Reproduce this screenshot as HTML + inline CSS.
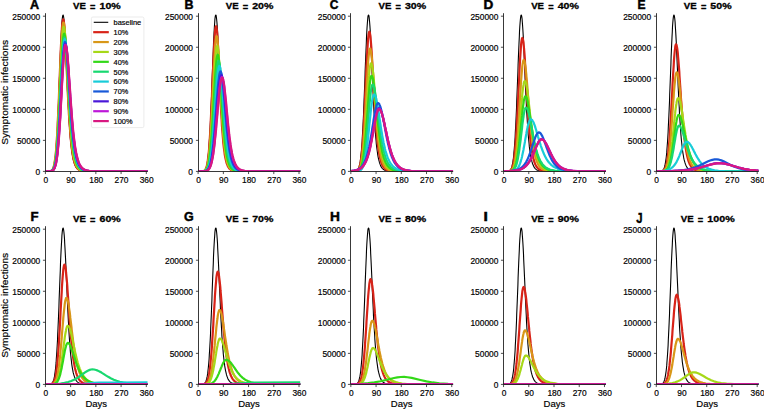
<!DOCTYPE html><html><head><meta charset="utf-8"><style>html,body{margin:0;padding:0;background:#fff;}svg{display:block;}text{font-family:"Liberation Sans",sans-serif;fill:#000;stroke:#000;stroke-width:0.18px;}</style></head><body>
<svg width="764" height="409" viewBox="0 0 764 409">
<rect width="764" height="409" fill="#fff"/>
<defs>
<clipPath id="c0"><rect x="45.40" y="13.20" width="102.31" height="158.20"/></clipPath>
<clipPath id="c1"><rect x="198.12" y="13.20" width="102.31" height="158.20"/></clipPath>
<clipPath id="c2"><rect x="350.84" y="13.20" width="102.31" height="158.20"/></clipPath>
<clipPath id="c3"><rect x="503.56" y="13.20" width="102.31" height="158.20"/></clipPath>
<clipPath id="c4"><rect x="656.28" y="13.20" width="102.31" height="158.20"/></clipPath>
<clipPath id="c5"><rect x="45.40" y="226.20" width="102.31" height="158.20"/></clipPath>
<clipPath id="c6"><rect x="198.12" y="226.20" width="102.31" height="158.20"/></clipPath>
<clipPath id="c7"><rect x="350.84" y="226.20" width="102.31" height="158.20"/></clipPath>
<clipPath id="c8"><rect x="503.56" y="226.20" width="102.31" height="158.20"/></clipPath>
<clipPath id="c9"><rect x="656.28" y="226.20" width="102.31" height="158.20"/></clipPath>
</defs>
<g clip-path="url(#c0)" fill="none" stroke-linejoin="round" stroke-linecap="butt">
<path d="M45.4 171.4L49.6 171.29L50.7 171.05L51.6 170.63L52.4 169.76L52.7 169.33L53 168.79L53.2 168.13L53.5 167.34L53.8 166.38L54.1 165.23L54.4 163.88L54.6 162.28L54.9 160.41L55.2 158.24L55.5 155.75L55.8 152.9L56.1 149.66L56.3 146.02L56.6 141.96L56.9 137.47L57.2 132.54L57.5 127.16L57.7 121.37L58 115.16L58.3 108.59L58.6 101.69L58.9 94.53L59.1 87.15L60 64.64L60.3 57.32L60.5 50.27L60.8 43.59L61.1 37.39L61.4 31.77L61.7 26.83L61.9 22.67L62.2 19.34L62.5 16.92L62.8 15.45L63.1 14.96L63.3 15.41L63.6 16.77L63.9 19L64.2 22.05L64.5 25.85L64.7 30.33L65 35.38L65.3 40.92L65.6 46.84L65.9 53.04L66.1 59.43L67 78.87L67.3 85.19L67.5 91.34L67.8 97.28L68.1 102.96L68.4 108.37L68.7 113.49L68.9 118.3L69.2 122.82L69.5 127.03L69.8 130.94L70.1 134.56L70.3 137.91L70.6 140.99L70.9 143.81L71.2 146.4L71.5 148.77L71.7 150.93L72 152.9L72.3 154.69L72.6 156.32L72.9 157.8L73.1 159.14L73.4 160.35L73.7 161.44L74.3 163.33L74.6 164.14L74.8 164.86L75.4 166.11L76 167.13L76.2 167.56L77.1 168.61L77.6 169.15L79 170.09L80.7 170.71L83 171.11L86.6 171.33L93.6 171.4L147.7 171.4" stroke="#000" stroke-width="1.10"/>
<path d="M45.4 171.4L49.6 171.28L50.7 171.02L51.6 170.58L52.4 169.7L52.7 169.26L53 168.72L53.2 168.07L53.5 167.28L53.8 166.34L54.1 165.22L54.4 163.89L54.6 162.34L54.9 160.53L55.2 158.44L55.5 156.04L55.8 153.31L56.1 150.22L56.3 146.76L56.6 142.89L56.9 138.63L57.2 133.95L57.5 128.87L57.7 123.38L58 117.52L58.3 111.3L58.6 104.78L58.9 97.99L59.1 91L60 69.55L60.3 62.52L60.5 55.71L60.8 49.23L61.1 43.15L61.4 37.59L61.7 32.63L61.9 28.36L62.2 24.85L62.5 22.16L62.8 20.34L63.1 19.42L63.3 19.41L63.6 20.23L63.9 21.86L64.2 24.26L64.5 27.38L64.7 31.16L65 35.52L65.3 40.38L65.6 45.66L65.9 51.27L66.1 57.11L66.7 69.2L67.3 81.33L67.5 87.25L67.8 93.02L68.1 98.6L68.4 103.96L68.7 109.07L68.9 113.92L69.2 118.5L69.5 122.8L69.8 126.83L70.1 130.6L70.3 134.09L70.6 137.34L70.9 140.33L71.2 143.1L71.5 145.64L71.7 147.98L72 150.12L72.3 152.08L72.6 153.87L72.9 155.51L73.1 157L73.4 158.36L73.7 159.59L74 160.71L74.6 162.66L74.8 163.5L75.4 164.95L76 166.13L76.2 166.64L76.8 167.52L77.4 168.24L77.6 168.55L78.5 169.31L79.3 169.86L80.7 170.48L82.7 170.96L86 171.27L95 171.4L147.7 171.4" stroke="#d82318" stroke-width="2.20"/>
<path d="M45.4 171.4L49.3 171.32L50.7 171.06L51.6 170.66L52.4 169.88L53 169.01L53.2 168.43L53.5 167.73L53.8 166.89L54.1 165.89L54.4 164.72L54.6 163.33L54.9 161.72L55.2 159.85L55.5 157.71L55.8 155.26L56.1 152.48L56.3 149.36L56.6 145.87L56.9 142L57.2 137.75L57.5 133.1L57.7 128.07L58 122.66L58.3 116.9L58.6 110.82L58.9 104.46L59.1 97.86L59.4 91.08L60.3 70.39L60.5 63.64L60.8 57.12L61.1 50.91L61.4 45.11L61.7 39.8L61.9 35.08L62.2 31.02L62.5 27.68L62.8 25.12L63.1 23.39L63.3 22.52L63.6 22.5L63.9 23.28L64.2 24.8L64.5 27.06L64.7 29.99L65 33.54L65.3 37.65L65.6 42.24L65.9 47.22L66.1 52.54L66.4 58.09L66.7 63.8L67.3 75.44L67.5 81.24L67.8 86.95L68.1 92.53L68.4 97.94L68.7 103.14L68.9 108.13L69.2 112.88L69.5 117.38L69.8 121.63L70.1 125.62L70.3 129.36L70.6 132.84L70.9 136.08L71.2 139.09L71.5 141.88L71.7 144.45L72 146.82L72.3 148.99L72.6 151L72.9 152.83L73.1 154.51L73.4 156.05L73.7 157.45L74 158.73L74.3 159.9L74.6 160.97L74.8 161.94L75.4 163.62L76 165.01L76.2 165.61L76.8 166.65L77.4 167.51L77.6 167.88L79 169.26L80.7 170.23L82.4 170.76L84.9 171.14L90 171.36L147.7 171.4" stroke="#d89718" stroke-width="2.20"/>
<path d="M45.4 171.4L49.6 171.3L51 171L51.6 170.74L52.4 170.05L53 169.28L53.2 168.77L53.5 168.15L53.8 167.41L54.1 166.53L54.4 165.49L54.6 164.27L54.9 162.84L55.2 161.19L55.5 159.29L55.8 157.11L56.1 154.64L56.3 151.85L56.6 148.72L56.9 145.25L57.2 141.42L57.5 137.22L57.7 132.65L58 127.73L58.3 122.45L58.6 116.86L58.9 110.96L59.1 104.82L59.4 98.46L60 85.35L60.3 78.73L60.5 72.17L60.8 65.75L61.1 59.56L61.4 53.67L61.7 48.18L61.9 43.16L62.2 38.7L62.5 34.86L62.8 31.72L63.3 27.68L63.6 26.86L63.9 26.84L64.2 27.56L64.5 28.97L64.7 31.05L65 33.77L65.3 37.06L65.6 40.88L65.9 45.14L66.1 49.8L66.4 54.76L66.7 59.96L67 65.33L67.3 70.81L67.5 76.32L68.1 87.25L68.4 92.57L68.7 97.75L68.9 102.76L69.2 107.57L69.5 112.17L69.8 116.55L70.1 120.69L70.3 124.6L70.6 128.27L70.9 131.71L71.2 134.92L71.5 137.92L71.7 140.69L72 143.27L72.3 145.65L72.6 147.85L72.9 149.88L73.1 151.75L73.4 153.46L73.7 155.04L74 156.48L74.3 157.81L74.6 159.02L74.8 160.12L75.1 161.14L75.7 162.9L76 163.67L76.2 164.37L76.8 165.59L77.4 166.61L77.6 167.04L78.5 168.14L79 168.71L80.4 169.74L82.1 170.47L84.1 170.93L87.4 171.25L91.1 171.36L147.7 171.4" stroke="#a6d818" stroke-width="2.20"/>
<path d="M45.4 171.4L49.6 171.31L51 171.06L51.6 170.85L52.4 170.27L53 169.63L53.8 168.09L54.1 167.36L54.4 166.5L54.6 165.48L54.9 164.3L55.2 162.93L55.5 161.34L55.8 159.52L56.1 157.45L56.3 155.11L56.6 152.47L56.9 149.54L57.2 146.28L57.5 142.69L57.7 138.77L58 134.52L58.3 129.93L58.6 125.04L58.9 119.84L59.1 114.37L59.4 108.67L59.7 102.77L60.3 90.59L60.5 84.42L60.8 78.29L61.1 72.27L61.4 66.44L61.7 60.87L61.9 55.63L62.2 50.8L62.5 46.45L62.8 42.65L63.1 39.46L63.3 36.92L63.6 35.08L63.9 33.96L64.2 33.58L64.5 33.9L64.7 34.84L65 36.39L65.3 38.52L65.6 41.19L65.9 44.36L66.1 47.97L66.4 51.96L66.7 56.28L67 60.87L67.3 65.65L67.5 70.57L68.7 90.63L68.9 95.51L69.2 100.26L69.5 104.87L69.8 109.31L70.1 113.57L70.3 117.63L70.6 121.49L70.9 125.14L71.2 128.59L71.5 131.83L71.7 134.87L72 137.71L72.3 140.37L72.6 142.84L72.9 145.13L73.1 147.26L73.4 149.24L73.7 151.06L74 152.74L74.3 154.3L74.6 155.73L74.8 157.05L75.4 159.38L76 161.34L76.2 162.21L76.8 163.72L77.4 164.99L77.6 165.54L78.5 166.94L78.8 167.33L79 167.69L79.9 168.58L80.7 169.26L82.1 170.05L83.8 170.62L86.3 171.06L90.8 171.32L99.2 171.4L147.7 171.4" stroke="#33d818" stroke-width="2.20"/>
<path d="M45.4 171.4L49.6 171.32L51 171.1L51.8 170.77L52.7 170.14L53 169.83L53.8 168.45L54.1 167.81L54.4 167.04L54.6 166.14L54.9 165.09L55.2 163.87L55.5 162.46L55.8 160.83L56.1 158.98L56.3 156.89L56.6 154.53L56.9 151.89L57.2 148.95L57.5 145.71L57.7 142.16L58 138.29L58.3 134.11L58.6 129.62L58.9 124.83L59.1 119.77L59.4 114.47L59.7 108.95L60 103.25L60.3 97.43L60.5 91.54L61.1 79.77L61.4 74.02L61.7 68.46L61.9 63.16L62.2 58.18L62.5 53.6L62.8 49.48L63.1 45.88L63.3 42.86L63.6 40.46L63.9 38.72L64.2 37.66L64.5 37.31L64.7 37.6L65 38.48L65.3 39.92L65.6 41.9L65.9 44.38L66.1 47.34L66.4 50.71L66.7 54.44L67 58.49L67.3 62.79L67.5 67.29L68.1 76.68L68.7 86.24L68.9 90.98L69.5 100.21L69.8 104.64L70.1 108.93L70.3 113.05L70.6 116.99L70.9 120.75L71.2 124.33L71.5 127.71L71.7 130.9L72 133.9L72.3 136.71L72.6 139.35L72.9 141.81L73.1 144.11L73.4 146.25L73.7 148.24L74 150.08L74.3 151.79L74.6 153.37L74.8 154.83L75.1 156.18L75.7 158.57L76 159.63L76.2 160.6L76.8 162.32L77.4 163.78L77.6 164.42L78.5 166.03L78.8 166.49L79 166.9L79.9 167.95L80.4 168.51L81.8 169.55L83.5 170.31L85.5 170.82L88.6 171.18L93.6 171.36L147.7 171.4" stroke="#18d870" stroke-width="2.20"/>
<path d="M45.4 171.4L49.9 171.3L51.6 170.95L52.7 170.25L53 169.97L53.8 168.74L54.1 168.16L54.4 167.47L54.6 166.66L54.9 165.71L55.2 164.61L55.5 163.33L55.8 161.86L56.1 160.19L56.3 158.29L56.6 156.14L56.9 153.74L57.2 151.06L57.5 148.1L57.7 144.83L58 141.27L58.3 137.41L58.6 133.24L58.9 128.79L59.1 124.06L59.4 119.07L59.7 113.86L60 108.45L60.3 102.88L60.5 97.2L61.4 80.04L61.7 74.49L61.9 69.12L62.2 64L62.5 59.21L62.8 54.8L63.1 50.85L63.3 47.39L63.6 44.49L63.9 42.19L64.2 40.52L64.5 39.51L64.7 39.17L65 39.45L65.3 40.28L65.6 41.65L65.9 43.53L66.1 45.9L66.4 48.71L66.7 51.93L67 55.49L67.3 59.36L67.5 63.48L67.8 67.8L68.4 76.83L68.7 81.45L68.9 86.07L69.5 95.21L69.8 99.66L70.1 103.99L70.3 108.18L70.6 112.23L70.9 116.11L71.2 119.82L71.5 123.36L71.7 126.71L72 129.88L72.3 132.87L72.6 135.69L72.9 138.33L73.1 140.81L73.4 143.12L73.7 145.28L74 147.29L74.3 149.16L74.6 150.89L74.8 152.51L75.1 154L75.7 156.66L76 157.84L76.2 158.93L76.8 160.87L77.4 162.51L77.6 163.24L78.2 164.52L78.8 165.61L79 166.08L79.9 167.29L80.2 167.63L80.4 167.95L81.8 169.16L83.5 170.07L85.2 170.61L88 171.07L92.5 171.32L101.5 171.4L147.7 171.4" stroke="#18ccd8" stroke-width="2.20"/>
<path d="M45.4 171.4L49.9 171.31L51.6 170.99L52.7 170.37L53 170.12L53.8 169.01L54.1 168.49L54.4 167.87L54.6 167.15L54.9 166.3L55.2 165.31L55.5 164.17L55.8 162.85L56.1 161.34L56.3 159.63L56.6 157.7L56.9 155.52L57.2 153.1L57.5 150.4L57.7 147.44L58 144.18L58.3 140.65L58.6 136.82L58.9 132.71L59.1 128.33L59.4 123.69L59.7 118.81L60 113.73L60.3 108.46L60.5 103.06L61.7 81.03L61.9 75.69L62.2 70.54L62.5 65.65L62.8 61.07L63.1 56.86L63.3 53.08L63.6 49.79L63.9 47.03L64.2 44.84L64.5 43.25L64.7 42.29L65 41.96L65.3 42.22L65.6 43L65.9 44.29L66.1 46.06L66.4 48.29L66.7 50.94L67 53.97L67.3 57.34L67.5 61L67.8 64.9L68.1 69L68.4 73.25L68.7 77.6L68.9 82.01L69.8 95.22L70.1 99.51L70.3 103.7L70.6 107.77L70.9 111.71L71.2 115.49L71.5 119.12L71.7 122.59L72 125.88L72.3 129.01L72.6 131.97L72.9 134.76L73.1 137.39L73.4 139.86L73.7 142.17L74 144.33L74.3 146.35L74.6 148.24L74.8 149.99L75.1 151.63L75.7 154.55L76 155.86L76.2 157.07L76.8 159.23L77.4 161.07L77.6 161.89L78.2 163.34L78.8 164.58L79 165.12L79.9 166.52L80.2 166.91L80.4 167.27L81.8 168.69L83.2 169.63L84.9 170.33L86.9 170.81L90.2 171.19L95.6 171.36L147.7 171.4" stroke="#1859d8" stroke-width="2.20"/>
<path d="M45.4 171.4L50.2 171.29L51.6 171.02L52.7 170.46L53 170.24L53.8 169.24L54.4 168.22L54.6 167.57L54.9 166.8L55.2 165.91L55.5 164.88L55.8 163.69L56.1 162.33L56.3 160.78L56.6 159.03L56.9 157.05L57.2 154.85L57.5 152.39L57.7 149.68L58 146.7L58.3 143.45L58.6 139.92L58.9 136.12L59.1 132.05L59.4 127.73L59.7 123.16L60 118.38L60.3 113.4L60.5 108.26L61.1 97.66L61.7 86.93L61.9 81.65L62.2 76.5L62.5 71.54L62.8 66.83L63.1 62.43L63.3 58.4L63.6 54.78L63.9 51.62L64.2 48.98L64.5 46.88L64.7 45.36L65 44.44L65.3 44.14L65.6 44.38L65.9 45.12L66.1 46.34L66.4 48.02L66.7 50.13L67 52.64L67.3 55.52L67.5 58.72L67.8 62.21L68.1 65.93L68.4 69.85L68.7 73.92L68.9 78.09L70.1 95.08L70.3 99.23L70.6 103.31L70.9 107.27L71.2 111.12L71.5 114.82L71.7 118.38L72 121.79L72.3 125.05L72.6 128.14L72.9 131.07L73.1 133.84L73.4 136.46L73.7 138.92L74 141.24L74.3 143.41L74.6 145.44L74.8 147.35L75.1 149.12L75.4 150.78L75.7 152.32L76 153.75L76.2 155.09L76.8 157.47L77.4 159.53L77.6 160.44L78.2 162.07L78.8 163.47L79 164.08L79.6 165.18L80.2 166.12L80.4 166.53L81.3 167.6L81.8 168.17L83.2 169.26L84.9 170.1L86.9 170.67L89.7 171.08L93.6 171.3L104 171.4L147.7 171.4" stroke="#4a18d8" stroke-width="2.20"/>
<path d="M45.4 171.4L50.2 171.3L51.6 171.04L52.7 170.5L53 170.29L53.8 169.34L54.4 168.37L54.6 167.74L54.9 167.01L55.2 166.17L55.5 165.18L55.8 164.05L56.1 162.75L56.3 161.27L56.6 159.6L56.9 157.71L57.2 155.6L57.5 153.25L57.7 150.64L58 147.78L58.3 144.66L58.6 141.26L58.9 137.59L59.1 133.66L59.4 129.47L59.7 125.04L60 120.39L60.3 115.54L60.5 110.52L61.1 100.11L61.7 89.5L61.9 84.24L62.2 79.09L62.5 74.11L62.8 69.34L63.1 64.85L63.3 60.7L63.6 56.93L63.9 53.59L64.2 50.74L64.5 48.41L64.7 46.64L65 45.44L65.3 44.83L65.6 44.82L65.9 45.3L66.4 47.68L66.7 49.54L67 51.8L67.3 54.45L67.5 57.44L67.8 60.73L68.1 64.27L68.4 68.03L68.7 71.96L68.9 76.01L70.1 92.76L70.3 96.9L70.6 100.98L70.9 104.96L71.2 108.83L71.5 112.58L71.7 116.19L72 119.66L72.3 122.98L72.6 126.14L72.9 129.15L73.1 132L73.4 134.69L73.7 137.23L74 139.63L74.3 141.88L74.6 143.99L74.8 145.97L75.1 147.82L75.4 149.54L75.7 151.15L76 152.65L76.2 154.05L76.8 156.56L77.4 158.72L77.6 159.69L78.2 161.41L78.8 162.89L79 163.54L79.9 165.23L80.2 165.71L80.4 166.15L81.3 167.28L81.8 167.9L83.2 169.07L84.9 169.98L86.9 170.6L89.7 171.05L93.9 171.3L104.3 171.4L147.7 171.4" stroke="#bd18d8" stroke-width="2.20"/>
<path d="M45.4 171.4L50.2 171.3L51.6 171.05L52.7 170.54L53 170.34L53.8 169.43L54.4 168.5L54.6 167.91L54.9 167.22L55.2 166.41L55.5 165.47L55.8 164.39L56.1 163.15L56.3 161.74L56.6 160.14L56.9 158.33L57.2 156.31L57.5 154.06L57.7 151.56L58 148.82L58.3 145.81L58.6 142.54L58.9 139L59.1 135.21L59.4 131.15L59.7 126.86L60 122.34L60.3 117.61L60.5 112.71L60.8 107.66L61.4 97.27L61.7 92.02L61.9 86.8L62.2 81.67L62.5 76.66L62.8 71.85L63.1 67.29L63.3 63.03L63.6 59.13L63.9 55.64L64.2 52.59L64.5 50.04L64.7 48.02L65 46.56L65.3 45.67L65.6 45.38L65.9 45.61L66.4 47.49L66.7 49.09L67 51.12L67.3 53.53L67.5 56.3L67.8 59.38L68.1 62.73L68.4 66.32L68.7 70.11L68.9 74.04L69.5 82.19L70.1 90.49L70.3 94.61L70.9 102.67L71.2 106.56L71.5 110.35L71.7 114L72 117.52L72.3 120.9L72.6 124.12L72.9 127.2L73.1 130.12L73.4 132.89L73.7 135.51L74 137.98L74.3 140.31L74.6 142.49L74.8 144.55L75.1 146.47L75.4 148.27L75.7 149.95L76 151.52L76.2 152.98L76.8 155.61L77.4 157.88L77.6 158.9L78.2 160.72L78.8 162.28L79 162.97L79.6 164.21L80.2 165.27L80.4 165.74L81.3 166.95L81.8 167.61L83.2 168.87L84.9 169.84L86.6 170.44L88.8 170.9L92.5 171.23L97.3 171.36L147.7 171.4" stroke="#d81880" stroke-width="2.20"/>
</g>
<path d="M45.50 13.20 V171.50 H147.71" fill="none" stroke="#222" stroke-width="0.9"/>
<path d="M42.93 171.40 H45.50" stroke="#222" stroke-width="0.8"/>
<text x="40.26" y="175.10" font-size="8.40" text-anchor="end" textLength="4.66" lengthAdjust="spacingAndGlyphs">0</text>
<path d="M42.93 140.36 H45.50" stroke="#222" stroke-width="0.8"/>
<text x="40.26" y="144.06" font-size="8.40" text-anchor="end" textLength="23.32" lengthAdjust="spacingAndGlyphs">50000</text>
<path d="M42.93 109.32 H45.50" stroke="#222" stroke-width="0.8"/>
<text x="40.26" y="113.02" font-size="8.40" text-anchor="end" textLength="27.98" lengthAdjust="spacingAndGlyphs">100000</text>
<path d="M42.93 78.28 H45.50" stroke="#222" stroke-width="0.8"/>
<text x="40.26" y="81.98" font-size="8.40" text-anchor="end" textLength="27.98" lengthAdjust="spacingAndGlyphs">150000</text>
<path d="M42.93 47.24 H45.50" stroke="#222" stroke-width="0.8"/>
<text x="40.26" y="50.94" font-size="8.40" text-anchor="end" textLength="27.98" lengthAdjust="spacingAndGlyphs">200000</text>
<path d="M42.93 16.20 H45.50" stroke="#222" stroke-width="0.8"/>
<text x="40.26" y="19.90" font-size="8.40" text-anchor="end" textLength="27.98" lengthAdjust="spacingAndGlyphs">250000</text>
<path d="M45.40 171.50 V174.07" stroke="#222" stroke-width="0.8"/>
<text x="45.80" y="182.70" font-size="8.40" text-anchor="middle" textLength="4.66" lengthAdjust="spacingAndGlyphs">0</text>
<path d="M70.63 171.50 V174.07" stroke="#222" stroke-width="0.8"/>
<text x="71.03" y="182.70" font-size="8.40" text-anchor="middle" textLength="9.33" lengthAdjust="spacingAndGlyphs">90</text>
<path d="M95.85 171.50 V174.07" stroke="#222" stroke-width="0.8"/>
<text x="96.25" y="182.70" font-size="8.40" text-anchor="middle" textLength="13.99" lengthAdjust="spacingAndGlyphs">180</text>
<path d="M121.08 171.50 V174.07" stroke="#222" stroke-width="0.8"/>
<text x="121.48" y="182.70" font-size="8.40" text-anchor="middle" textLength="13.99" lengthAdjust="spacingAndGlyphs">270</text>
<path d="M146.31 171.50 V174.07" stroke="#222" stroke-width="0.8"/>
<text x="146.71" y="182.70" font-size="8.40" text-anchor="middle" textLength="13.99" lengthAdjust="spacingAndGlyphs">360</text>
<text x="73.00" y="8.85" font-size="9.5" font-weight="bold" style="stroke-width:0.3px" textLength="12.91" lengthAdjust="spacingAndGlyphs">VE</text>
<text x="99.50" y="8.85" font-size="9.5" font-weight="bold" style="stroke-width:0.3px" textLength="21.21" lengthAdjust="spacingAndGlyphs">10%</text>
<text x="92.71" y="9.55" font-size="9.2" font-weight="bold" style="stroke-width:0.3px" text-anchor="middle">=</text>
<text x="29.90" y="8.90" font-size="12.4" font-weight="bold" style="stroke-width:0.45px" textLength="9.13" lengthAdjust="spacingAndGlyphs">A</text>
<text transform="translate(7.5 92.30) rotate(-90)" x="0" y="0" font-size="9.9" text-anchor="middle" textLength="105.04" lengthAdjust="spacingAndGlyphs">Symptomatic infections</text>
<g clip-path="url(#c1)" fill="none" stroke-linejoin="round" stroke-linecap="butt">
<path d="M198.1 171.4L202.3 171.29L203.4 171.05L204.3 170.63L204.6 170.4L205.4 169.33L205.7 168.79L206 168.13L206.2 167.34L206.5 166.38L206.8 165.23L207.1 163.88L207.4 162.28L207.7 160.41L207.9 158.24L208.2 155.75L208.5 152.9L208.8 149.66L209.1 146.02L209.3 141.96L209.6 137.47L209.9 132.54L210.2 127.16L210.5 121.37L210.7 115.16L211 108.59L211.3 101.69L211.6 94.53L211.9 87.15L212.1 79.66L212.7 64.64L213 57.32L213.3 50.27L213.5 43.59L213.8 37.39L214.1 31.77L214.4 26.83L214.7 22.67L214.9 19.34L215.2 16.92L215.5 15.45L215.8 14.96L216.1 15.41L216.3 16.77L216.6 19L216.9 22.05L217.2 25.85L217.5 30.33L217.7 35.38L218 40.92L218.3 46.84L218.6 53.04L218.9 59.43L219.1 65.92L219.7 78.87L220 85.19L220.3 91.34L220.5 97.28L220.8 102.96L221.1 108.37L221.4 113.49L221.7 118.3L221.9 122.82L222.2 127.03L222.5 130.94L222.8 134.56L223.1 137.91L223.3 140.99L223.6 143.81L223.9 146.4L224.2 148.77L224.5 150.93L224.7 152.9L225 154.69L225.3 156.32L225.6 157.8L225.9 159.14L226.2 160.35L226.4 161.44L227 163.33L227.6 164.86L227.8 165.52L228.4 166.65L229 167.56L229.2 167.95L230.1 168.9L230.9 169.59L232.3 170.34L234 170.85L236.5 171.19L240.7 171.36L300.4 171.4" stroke="#000" stroke-width="1.10"/>
<path d="M198.1 171.4L202 171.32L203.4 171.06L204.3 170.65L204.6 170.44L205.4 169.45L205.7 168.96L206 168.36L206.2 167.65L206.5 166.79L206.8 165.77L207.1 164.56L207.4 163.15L207.7 161.5L207.9 159.6L208.2 157.41L208.5 154.91L208.8 152.09L209.1 148.91L209.3 145.37L209.6 141.45L209.9 137.14L210.2 132.45L210.5 127.38L210.7 121.95L211 116.17L211.3 110.09L211.6 103.74L211.9 97.18L212.1 90.47L212.7 76.88L213 70.17L213.3 63.62L213.5 57.33L213.8 51.39L214.1 45.9L214.4 40.93L214.7 36.58L214.9 32.91L215.2 29.98L215.5 27.86L215.8 26.57L216.1 26.13L216.3 26.59L216.6 27.93L216.9 30.14L217.2 33.15L217.5 36.9L217.7 41.31L218 46.27L218.3 51.68L218.6 57.45L218.9 63.47L219.1 69.65L219.7 82.11L220 88.25L220.3 94.24L220.5 100.04L220.8 105.61L221.1 110.91L221.4 115.93L221.7 120.65L221.9 125.07L222.2 129.2L222.5 133.02L222.8 136.56L223.1 139.81L223.3 142.8L223.6 145.54L223.9 148.05L224.2 150.33L224.5 152.41L224.7 154.29L225 156L225.3 157.55L225.6 158.95L225.9 160.21L226.2 161.36L226.4 162.38L226.7 163.31L227.3 164.89L227.6 165.57L227.8 166.17L228.4 167.2L229 168.03L229.2 168.39L230.1 169.24L230.9 169.85L232.3 170.51L234 170.95L237.1 171.27L245.5 171.4L300.4 171.4" stroke="#d82318" stroke-width="2.20"/>
<path d="M198.1 171.4L202.3 171.31L203.4 171.13L204.3 170.81L204.6 170.65L205.4 169.88L206 169.05L206.2 168.5L206.5 167.84L206.8 167.05L207.1 166.12L207.4 165.03L207.7 163.76L207.9 162.28L208.2 160.58L208.5 158.63L208.8 156.41L209.1 153.91L209.3 151.1L209.6 147.98L209.9 144.53L210.2 140.74L210.5 136.61L210.7 132.15L211 127.36L211.3 122.27L211.6 116.89L211.9 111.26L212.1 105.43L212.4 99.43L213.3 81.06L213.5 75.04L213.8 69.18L214.1 63.59L214.4 58.32L214.7 53.45L214.9 49.07L215.2 45.24L215.5 42.01L215.8 39.44L216.1 37.58L216.3 36.44L216.6 36.07L216.9 36.46L217.2 37.64L217.5 39.56L217.7 42.2L218 45.49L218.3 49.36L218.6 53.73L218.9 58.52L219.1 63.64L219.4 69.01L220 80.15L220.3 85.78L220.5 91.35L220.8 96.82L221.1 102.14L221.4 107.28L221.7 112.19L221.9 116.87L222.2 121.3L222.5 125.47L222.8 129.37L223.1 133.01L223.3 136.4L223.6 139.53L223.9 142.43L224.2 145.09L224.5 147.54L224.7 149.78L225 151.83L225.3 153.7L225.6 155.4L225.9 156.95L226.2 158.36L226.4 159.63L226.7 160.79L227 161.84L227.6 163.64L227.8 164.42L228.4 165.75L229 166.83L229.2 167.29L230.1 168.41L230.6 168.99L231.5 169.65L232.3 170.13L233.7 170.66L235.7 171.05L239 171.31L246.9 171.4L300.4 171.4" stroke="#d89718" stroke-width="2.20"/>
<path d="M198.1 171.4L202.6 171.3L204 171.04L204.6 170.81L205.4 170.22L206 169.58L206.2 169.15L206.8 168.04L207.1 167.32L207.4 166.48L207.7 165.5L207.9 164.36L208.2 163.03L208.5 161.52L208.8 159.79L209.1 157.83L209.3 155.62L209.6 153.15L209.9 150.41L210.2 147.38L210.5 144.05L210.7 140.44L211 136.52L211.3 132.32L211.6 127.85L211.9 123.12L212.1 118.16L212.4 112.99L212.7 107.67L213.3 96.71L213.5 91.19L214.1 80.33L214.4 75.13L214.7 70.17L214.9 65.52L215.2 61.24L215.5 57.38L215.8 54.02L216.1 51.19L216.3 48.95L216.6 47.32L216.9 46.33L217.2 46L217.5 46.35L217.7 47.38L218 49.07L218.3 51.4L218.6 54.3L218.9 57.72L219.1 61.59L219.4 65.84L219.7 70.41L220 75.2L220.3 80.16L220.5 85.2L221.1 95.33L221.4 100.31L221.7 105.17L221.9 109.88L222.2 114.41L222.5 118.73L222.8 122.85L223.1 126.73L223.3 130.39L223.6 133.82L223.9 137.01L224.2 139.99L224.5 142.74L224.7 145.29L225 147.64L225.3 149.8L225.6 151.78L225.9 153.59L226.2 155.25L226.4 156.77L226.7 158.15L227 159.41L227.3 160.56L227.6 161.6L227.8 162.54L228.4 164.17L229 165.51L229.2 166.09L230.1 167.5L230.6 168.23L231.5 169.08L232.3 169.71L233.7 170.4L235.4 170.87L238.2 171.21L242.1 171.36L300.4 171.4" stroke="#a6d818" stroke-width="2.20"/>
<path d="M198.1 171.4L202.9 171.29L204.3 171.03L205.1 170.65L206 169.97L206.8 168.78L207.4 167.57L207.7 166.8L207.9 165.91L208.2 164.88L208.5 163.69L208.8 162.33L209.1 160.79L209.3 159.04L209.6 157.08L209.9 154.9L210.2 152.47L210.5 149.79L210.7 146.86L211 143.67L211.3 140.22L211.6 136.51L211.9 132.56L212.1 128.38L212.4 123.98L212.7 119.4L213 114.65L213.3 109.78L213.5 104.83L214.1 94.84L214.7 85.1L214.9 80.46L215.2 76.05L215.5 71.91L215.8 68.12L216.1 64.72L216.3 61.75L216.6 59.26L216.9 57.28L217.2 55.85L217.5 54.98L217.7 54.69L218 54.99L218.3 55.9L218.6 57.38L218.9 59.42L219.1 61.97L219.4 64.98L219.7 68.4L220 72.16L220.3 76.21L220.5 80.48L220.8 84.91L221.7 98.6L221.9 103.12L222.2 107.56L222.5 111.88L222.8 116.06L223.1 120.07L223.3 123.89L223.6 127.53L223.9 130.96L224.2 134.2L224.5 137.23L224.7 140.06L225 142.7L225.3 145.15L225.6 147.42L225.9 149.52L226.2 151.45L226.4 153.23L226.7 154.86L227 156.36L227.3 157.73L227.6 158.98L227.8 160.13L228.4 162.12L229 163.78L229.2 164.5L229.8 165.74L230.4 166.76L230.6 167.2L231.5 168.3L232 168.86L233.4 169.87L235.1 170.57L237.1 170.99L240.2 171.27L249.4 171.4L300.4 171.4" stroke="#33d818" stroke-width="2.20"/>
<path d="M198.1 171.4L203.2 171.29L204.6 171.04L205.7 170.54L206 170.34L206.8 169.47L207.4 168.59L207.7 168.03L207.9 167.38L208.2 166.62L208.5 165.75L208.8 164.75L209.1 163.61L209.3 162.31L209.6 160.85L209.9 159.21L210.2 157.38L210.5 155.35L210.7 153.11L211 150.65L211.3 147.97L211.6 145.06L211.9 141.92L212.1 138.57L212.4 135L212.7 131.22L213 127.26L213.3 123.13L213.5 118.85L214.1 109.98L214.7 100.92L214.9 96.41L215.2 91.99L215.5 87.68L215.8 83.55L216.1 79.64L216.3 75.99L216.6 72.65L216.9 69.66L217.2 67.06L217.5 64.88L217.7 63.16L218 61.91L218.3 61.15L218.6 60.9L218.9 61.16L219.4 63.25L219.7 65.04L220 67.28L220.3 69.93L220.5 72.95L220.8 76.29L221.1 79.89L221.4 83.71L221.7 87.69L221.9 91.78L223.1 108.33L223.3 112.33L223.6 116.23L223.9 119.98L224.2 123.59L224.5 127.04L224.7 130.32L225 133.42L225.3 136.35L225.6 139.1L225.9 141.68L226.2 144.09L226.4 146.33L226.7 148.41L227 150.34L227.3 152.13L227.6 153.78L227.8 155.3L228.1 156.7L228.4 157.99L228.7 159.17L229 160.25L229.2 161.24L229.8 162.98L230.4 164.43L230.6 165.06L231.2 166.16L231.8 167.08L232 167.47L232.9 168.46L233.4 168.98L234.8 169.91L236.5 170.57L238.5 170.98L241.8 171.27L244.9 171.36L300.4 171.4" stroke="#18d870" stroke-width="2.20"/>
<path d="M198.1 171.4L203.4 171.29L204.8 171.06L206 170.6L207.1 169.65L207.7 168.88L207.9 168.39L208.5 167.18L208.8 166.43L209.1 165.58L209.3 164.61L209.6 163.51L209.9 162.26L210.2 160.87L210.5 159.32L210.7 157.6L211 155.69L211.3 153.6L211.6 151.32L211.9 148.84L212.1 146.17L212.4 143.29L212.7 140.22L213 136.96L213.3 133.51L213.5 129.9L213.8 126.14L214.1 122.25L214.7 114.16L214.9 110.01L215.8 97.6L216.1 93.59L216.3 89.71L216.6 86L216.9 82.49L217.2 79.23L217.5 76.26L217.7 73.61L218 71.3L218.3 69.38L218.6 67.86L219.1 66.09L219.4 65.86L219.7 66.1L220 66.79L220.3 67.93L220.5 69.5L220.8 71.47L221.1 73.81L221.4 76.49L221.7 79.46L221.9 82.67L222.2 86.09L222.5 89.67L223.1 97.14L223.3 100.95L224.2 112.25L224.5 115.89L224.7 119.42L225 122.84L225.3 126.12L225.6 129.26L225.9 132.25L226.2 135.09L226.4 137.77L226.7 140.3L227 142.68L227.3 144.91L227.6 146.99L227.8 148.93L228.1 150.73L228.4 152.41L228.7 153.96L229 155.4L229.2 156.73L229.5 157.96L230.1 160.14L230.4 161.09L230.6 161.98L231.2 163.53L231.8 164.83L232 165.4L232.6 166.41L233.2 167.24L233.4 167.61L234.3 168.53L235.1 169.23L236.5 170.04L238.2 170.62L240.7 171.06L245.2 171.33L253.3 171.4L300.4 171.4" stroke="#18ccd8" stroke-width="2.20"/>
<path d="M198.1 171.4L203.7 171.3L205.4 171.02L206.2 170.71L207.1 170.17L207.7 169.64L208.5 168.48L209.1 167.37L209.3 166.7L209.9 165.06L210.2 164.09L210.5 162.99L210.7 161.77L211 160.42L211.3 158.92L211.6 157.27L211.9 155.46L212.1 153.49L212.4 151.35L212.7 149.05L213 146.57L213.3 143.92L213.5 141.11L213.8 138.14L214.1 135.02L214.4 131.75L214.7 128.36L214.9 124.85L215.5 117.58L216.1 110.11L216.3 106.37L216.9 99.03L217.2 95.49L217.5 92.08L217.7 88.83L218 85.78L218.3 82.95L218.6 80.38L218.9 78.09L219.1 76.11L219.4 74.46L219.7 73.15L220 72.21L220.3 71.64L220.5 71.45L220.8 71.65L221.1 72.24L221.4 73.22L221.7 74.57L221.9 76.27L222.2 78.29L222.5 80.61L222.8 83.19L223.1 86L223.3 88.99L223.6 92.15L224.2 98.78L224.5 102.19L224.7 105.63L225.6 115.79L226.2 122.23L226.4 125.31L226.7 128.27L227 131.11L227.3 133.83L227.6 136.41L227.8 138.87L228.1 141.18L228.4 143.37L228.7 145.43L229 147.36L229.2 149.17L229.5 150.87L230.1 153.91L230.4 155.28L230.6 156.55L231.2 158.82L231.8 160.77L232 161.63L232.6 163.16L233.2 164.46L233.4 165.03L234.3 166.49L234.6 166.9L234.8 167.28L235.7 168.23L236.5 168.97L237.9 169.84L239.6 170.48L241.8 170.95L245.5 171.26L249.1 171.36L300.4 171.4" stroke="#1859d8" stroke-width="2.20"/>
<path d="M198.1 171.4L204 171.3L206 170.95L207.1 170.45L207.7 170.04L208.8 168.75L209.1 168.3L209.3 167.78L209.9 166.53L210.5 164.93L210.7 163.98L211 162.92L211.3 161.75L211.6 160.46L211.9 159.03L212.1 157.47L212.4 155.77L212.7 153.92L213 151.92L213.3 149.77L213.5 147.47L213.8 145.01L214.1 142.41L214.4 139.66L214.7 136.78L214.9 133.77L215.5 127.41L216.1 120.7L216.3 117.25L217.2 106.85L217.5 103.45L217.7 100.11L218 96.88L218.3 93.77L218.6 90.82L218.9 88.06L219.1 85.51L219.4 83.19L219.7 81.13L220 79.35L220.3 77.87L220.5 76.7L220.8 75.86L221.1 75.35L221.4 75.18L221.7 75.35L222.2 76.77L222.5 77.98L222.8 79.51L223.1 81.34L223.3 83.43L223.6 85.77L223.9 88.32L224.2 91.05L224.5 93.94L224.7 96.94L225.3 103.18L226.2 112.73L226.4 115.87L227 121.97L227.6 127.73L227.8 130.46L228.1 133.07L228.4 135.58L228.7 137.97L229 140.24L229.2 142.39L229.5 144.42L229.8 146.33L230.1 148.13L230.4 149.83L230.6 151.41L230.9 152.9L231.5 155.57L231.8 156.78L232 157.9L232.6 159.9L233.2 161.63L233.4 162.4L234 163.76L234.6 164.93L234.8 165.45L235.7 166.77L236 167.15L236.2 167.49L237.6 168.84L239.3 169.87L241 170.48L243.2 170.94L246.6 171.24L251.1 171.36L300.4 171.4" stroke="#4a18d8" stroke-width="2.20"/>
<path d="M198.1 171.4L204.3 171.29L206 171.01L207.4 170.43L207.9 170.03L208.8 169.15L209.1 168.77L209.3 168.33L209.9 167.27L210.5 165.91L210.7 165.11L211 164.21L211.3 163.2L211.6 162.09L211.9 160.87L212.1 159.53L212.4 158.06L212.7 156.46L213 154.72L213.3 152.84L213.5 150.82L213.8 148.66L214.1 146.36L214.4 143.92L214.7 141.34L214.9 138.63L215.2 135.8L215.8 129.8L216.1 126.66L216.3 123.44L217.5 110.21L217.7 106.92L218.3 100.51L218.6 97.44L218.9 94.51L219.1 91.73L219.4 89.12L219.7 86.72L220 84.55L220.3 82.62L220.5 80.95L220.8 79.56L221.1 78.46L221.4 77.67L221.7 77.2L221.9 77.04L222.2 77.2L222.5 77.7L222.8 78.52L223.1 79.65L223.3 81.08L223.6 82.79L223.9 84.75L224.2 86.95L224.5 89.34L224.7 91.92L225 94.64L225.6 100.41L226.2 106.44L226.4 109.49L227.3 118.53L227.6 121.44L227.8 124.28L228.4 129.71L228.7 132.28L229 134.74L229.2 137.09L229.5 139.34L229.8 141.47L230.1 143.49L230.4 145.41L230.6 147.21L231.2 150.51L231.8 153.42L232 154.73L232.6 157.11L233.2 159.17L233.4 160.09L234 161.75L234.6 163.18L234.8 163.81L235.7 165.45L236 165.91L236.2 166.35L237.1 167.45L237.4 167.76L237.6 168.05L239 169.18L240.7 170.06L242.4 170.59L245.2 171.05L249.4 171.3L259.5 171.4L300.4 171.4" stroke="#bd18d8" stroke-width="2.20"/>
<path d="M198.1 171.4L204 171.31L206 171.04L207.4 170.5L207.7 170.33L208.8 169.32L209.1 168.97L209.3 168.56L209.9 167.58L210.5 166.32L210.7 165.58L211.3 163.81L211.9 161.65L212.1 160.4L212.4 159.03L212.7 157.53L213 155.91L213.3 154.15L213.5 152.26L213.8 150.23L214.1 148.06L214.4 145.75L214.7 143.31L214.9 140.74L215.2 138.04L215.8 132.3L216.1 129.28L216.3 126.18L217.2 116.53L217.5 113.26L217.7 110L218.3 103.6L218.6 100.51L218.9 97.52L219.1 94.65L219.4 91.94L219.7 89.41L220 87.07L220.3 84.95L220.5 83.07L220.8 81.45L221.1 80.11L221.4 79.04L221.9 77.81L222.2 77.66L222.5 77.82L222.8 78.3L223.1 79.1L223.3 80.19L223.6 81.58L223.9 83.24L224.2 85.14L224.5 87.27L224.7 89.61L225 92.11L225.3 94.76L225.9 100.4L226.2 103.33L226.4 106.31L227.6 118.18L227.8 121.06L228.4 126.59L229 131.78L229.2 134.23L229.5 136.57L229.8 138.81L230.1 140.94L230.4 142.97L230.6 144.88L231.2 148.4L231.8 151.52L232 152.94L232.6 155.51L233.2 157.76L233.4 158.77L234 160.58L234.6 162.15L234.8 162.86L235.7 164.67L236 165.19L236.2 165.67L237.1 166.9L237.4 167.25L237.6 167.57L239 168.86L240.7 169.85L242.4 170.45L244.6 170.91L248.3 171.23L252.8 171.36L300.4 171.4" stroke="#d81880" stroke-width="2.20"/>
</g>
<path d="M198.50 13.20 V171.50 H300.43" fill="none" stroke="#222" stroke-width="0.9"/>
<path d="M195.93 171.40 H198.50" stroke="#222" stroke-width="0.8"/>
<text x="192.98" y="175.10" font-size="8.40" text-anchor="end" textLength="4.66" lengthAdjust="spacingAndGlyphs">0</text>
<path d="M195.93 140.36 H198.50" stroke="#222" stroke-width="0.8"/>
<text x="192.98" y="144.06" font-size="8.40" text-anchor="end" textLength="23.32" lengthAdjust="spacingAndGlyphs">50000</text>
<path d="M195.93 109.32 H198.50" stroke="#222" stroke-width="0.8"/>
<text x="192.98" y="113.02" font-size="8.40" text-anchor="end" textLength="27.98" lengthAdjust="spacingAndGlyphs">100000</text>
<path d="M195.93 78.28 H198.50" stroke="#222" stroke-width="0.8"/>
<text x="192.98" y="81.98" font-size="8.40" text-anchor="end" textLength="27.98" lengthAdjust="spacingAndGlyphs">150000</text>
<path d="M195.93 47.24 H198.50" stroke="#222" stroke-width="0.8"/>
<text x="192.98" y="50.94" font-size="8.40" text-anchor="end" textLength="27.98" lengthAdjust="spacingAndGlyphs">200000</text>
<path d="M195.93 16.20 H198.50" stroke="#222" stroke-width="0.8"/>
<text x="192.98" y="19.90" font-size="8.40" text-anchor="end" textLength="27.98" lengthAdjust="spacingAndGlyphs">250000</text>
<path d="M198.12 171.50 V174.07" stroke="#222" stroke-width="0.8"/>
<text x="198.52" y="182.70" font-size="8.40" text-anchor="middle" textLength="4.66" lengthAdjust="spacingAndGlyphs">0</text>
<path d="M223.35 171.50 V174.07" stroke="#222" stroke-width="0.8"/>
<text x="223.75" y="182.70" font-size="8.40" text-anchor="middle" textLength="9.33" lengthAdjust="spacingAndGlyphs">90</text>
<path d="M248.57 171.50 V174.07" stroke="#222" stroke-width="0.8"/>
<text x="248.97" y="182.70" font-size="8.40" text-anchor="middle" textLength="13.99" lengthAdjust="spacingAndGlyphs">180</text>
<path d="M273.80 171.50 V174.07" stroke="#222" stroke-width="0.8"/>
<text x="274.20" y="182.70" font-size="8.40" text-anchor="middle" textLength="13.99" lengthAdjust="spacingAndGlyphs">270</text>
<path d="M299.03 171.50 V174.07" stroke="#222" stroke-width="0.8"/>
<text x="299.43" y="182.70" font-size="8.40" text-anchor="middle" textLength="13.99" lengthAdjust="spacingAndGlyphs">360</text>
<text x="225.72" y="8.85" font-size="9.5" font-weight="bold" style="stroke-width:0.3px" textLength="12.91" lengthAdjust="spacingAndGlyphs">VE</text>
<text x="252.22" y="8.85" font-size="9.5" font-weight="bold" style="stroke-width:0.3px" textLength="21.21" lengthAdjust="spacingAndGlyphs">20%</text>
<text x="245.43" y="9.55" font-size="9.2" font-weight="bold" style="stroke-width:0.3px" text-anchor="middle">=</text>
<text x="184.50" y="8.90" font-size="12.4" font-weight="bold" style="stroke-width:0.45px" textLength="8.99" lengthAdjust="spacingAndGlyphs">B</text>
<g clip-path="url(#c2)" fill="none" stroke-linejoin="round" stroke-linecap="butt">
<path d="M350.8 171.4L355 171.29L356.2 171.05L357 170.63L357.6 170.12L358.4 168.79L358.7 168.13L359 167.34L359.2 166.38L359.5 165.23L359.8 163.88L360.1 162.28L360.4 160.41L360.7 158.24L360.9 155.75L361.2 152.9L361.5 149.66L361.8 146.02L362.1 141.96L362.3 137.47L362.6 132.54L362.9 127.16L363.2 121.37L363.5 115.16L363.7 108.59L364 101.69L364.3 94.53L364.6 87.15L364.9 79.66L365.1 72.12L365.4 64.64L365.7 57.32L366 50.27L366.3 43.59L366.5 37.39L366.8 31.77L367.1 26.83L367.4 22.67L367.7 19.34L367.9 16.92L368.2 15.45L368.5 14.96L368.8 15.41L369.1 16.77L369.3 19L369.6 22.05L369.9 25.85L370.2 30.33L370.5 35.38L370.7 40.92L371 46.84L371.3 53.04L371.6 59.43L371.9 65.92L372.1 72.42L372.4 78.87L372.7 85.19L373 91.34L373.3 97.28L373.5 102.96L373.8 108.37L374.1 113.49L374.4 118.3L374.7 122.82L374.9 127.03L375.2 130.94L375.5 134.56L375.8 137.91L376.1 140.99L376.3 143.81L376.6 146.4L376.9 148.77L377.2 150.93L377.5 152.9L377.7 154.69L378 156.32L378.3 157.8L378.6 159.14L378.9 160.35L379.2 161.44L379.4 162.43L380 164.14L380.6 165.52L380.8 166.11L381.4 167.13L382 167.95L382.2 168.3L383.1 169.15L383.6 169.59L385.3 170.45L387 170.9L389.5 171.21L393.4 171.36L453.1 171.4" stroke="#000" stroke-width="1.10"/>
<path d="M350.8 171.4L355 171.31L356.2 171.12L357.3 170.62L357.6 170.41L358.4 169.44L359 168.4L359.2 167.72L359.5 166.91L359.8 165.95L360.1 164.83L360.4 163.51L360.7 161.99L360.9 160.23L361.2 158.22L361.5 155.93L361.8 153.35L362.1 150.45L362.3 147.23L362.6 143.66L362.9 139.75L363.2 135.49L363.5 130.89L363.7 125.95L364 120.69L364.3 115.14L364.6 109.33L364.9 103.31L365.1 97.12L366 78.16L366.3 71.94L366.5 65.9L366.8 60.12L367.1 54.69L367.4 49.67L367.7 45.14L367.9 41.18L368.2 37.85L368.5 35.2L368.8 33.28L369.1 32.11L369.3 31.72L369.6 32.05L369.9 33.04L370.2 34.68L370.5 36.92L370.7 39.72L371 43.05L371.3 46.83L371.6 51.01L371.9 55.53L372.1 60.31L372.4 65.29L373 75.6L373.3 80.81L373.5 86L373.8 91.12L374.1 96.12L374.4 101L374.7 105.7L374.9 110.22L375.2 114.55L375.5 118.66L375.8 122.56L376.1 126.24L376.3 129.7L376.6 132.95L376.9 135.99L377.2 138.82L377.5 141.46L377.7 143.91L378 146.17L378.3 148.27L378.6 150.21L378.9 152L379.2 153.65L379.4 155.17L379.7 156.56L380.3 159.02L380.6 160.1L380.8 161.08L381.4 162.81L382 164.26L382.2 164.89L382.8 165.99L383.4 166.91L383.6 167.31L384.5 168.31L385 168.84L386.4 169.8L388.1 170.49L390.1 170.93L393.4 171.25L397.1 171.36L453.1 171.4" stroke="#d82318" stroke-width="2.20"/>
<path d="M350.8 171.4L355.3 171.31L356.7 171.06L357.6 170.69L358.4 170.02L359 169.29L359.2 168.82L359.5 168.25L359.8 167.58L360.1 166.79L360.4 165.87L360.7 164.8L360.9 163.56L361.2 162.14L361.5 160.51L361.8 158.67L362.1 156.59L362.3 154.27L362.6 151.68L362.9 148.82L363.2 145.67L363.5 142.25L363.7 138.53L364 134.54L364.3 130.28L364.6 125.76L364.9 121.01L365.1 116.06L365.4 110.93L366 100.33L366.3 94.95L366.5 89.59L366.8 84.31L367.1 79.17L367.4 74.24L367.7 69.57L367.9 65.24L368.2 61.29L368.5 57.8L368.8 54.8L369.1 52.34L369.3 50.47L369.6 49.2L369.9 48.56L370.2 48.54L370.5 49.05L371 51.51L371.3 53.44L371.6 55.78L371.9 58.51L372.1 61.58L372.4 64.96L372.7 68.58L373 72.42L373.3 76.41L373.5 80.52L374.7 97.31L374.9 101.43L375.5 109.37L375.8 113.17L376.1 116.82L376.3 120.33L376.6 123.69L376.9 126.88L377.2 129.92L377.5 132.79L377.7 135.5L378 138.05L378.3 140.45L378.6 142.71L378.9 144.81L379.2 146.78L379.4 148.62L379.7 150.34L380 151.93L380.3 153.42L380.6 154.79L380.8 156.07L381.4 158.35L382 160.31L382.2 161.18L382.8 162.73L383.4 164.04L383.6 164.63L384.5 166.12L384.8 166.54L385 166.93L386.4 168.45L388.1 169.62L389.5 170.23L391.5 170.75L394.3 171.12L398.8 171.33L407.7 171.4L453.1 171.4" stroke="#d89718" stroke-width="2.20"/>
<path d="M350.8 171.4L355.9 171.29L357.6 170.93L358.7 170.28L359 170.02L359.8 168.92L360.4 167.81L360.7 167.12L360.9 166.32L361.2 165.39L361.5 164.33L361.8 163.12L362.1 161.75L362.3 160.2L362.6 158.47L362.9 156.54L363.2 154.4L363.5 152.04L363.7 149.47L364 146.66L364.3 143.63L364.6 140.38L364.9 136.9L365.1 133.22L365.4 129.35L365.7 125.29L366 121.09L366.3 116.76L366.5 112.34L367.4 98.89L367.7 94.48L367.9 90.2L368.2 86.07L368.5 82.16L368.8 78.51L369.1 75.17L369.3 72.17L369.6 69.57L369.9 67.38L370.2 65.65L370.7 63.64L371 63.38L371.3 63.57L371.6 64.12L371.9 65.03L372.1 66.3L372.4 67.89L372.7 69.79L373 71.97L373.3 74.4L373.5 77.06L373.8 79.92L374.1 82.93L374.7 89.32L374.9 92.63L376.1 106.05L376.3 109.34L376.9 115.71L377.5 121.72L377.7 124.57L378 127.32L378.3 129.95L378.6 132.46L378.9 134.85L379.2 137.13L379.4 139.3L379.7 141.35L380.3 145.11L380.6 146.84L380.8 148.46L381.4 151.43L382 154.04L382.2 155.22L382.8 157.36L383.4 159.23L383.6 160.08L384.2 161.6L384.8 162.93L385 163.52L385.9 165.07L386.2 165.52L386.4 165.93L387.3 167.02L387.6 167.33L387.8 167.62L389.5 168.97L390.9 169.72L392.6 170.32L394.8 170.81L398.5 171.17L404.7 171.36L453.1 171.4" stroke="#a6d818" stroke-width="2.20"/>
<path d="M350.8 171.4L356.2 171.29L357.6 171.04L358.7 170.55L359 170.36L359.8 169.54L360.4 168.71L360.7 168.2L360.9 167.6L361.5 166.11L361.8 165.2L362.1 164.16L362.3 162.99L362.6 161.68L362.9 160.21L363.2 158.58L363.5 156.78L363.7 154.79L364 152.62L364.3 150.26L364.6 147.72L364.9 144.98L365.1 142.05L365.4 138.95L365.7 135.68L366 132.26L366.3 128.7L366.5 125.02L367.1 117.42L367.7 109.68L367.9 105.84L368.2 102.08L368.5 98.43L368.8 94.93L369.1 91.61L369.3 88.53L369.6 85.7L369.9 83.18L370.2 80.99L370.5 79.15L370.7 77.7L371 76.65L371.3 76.01L371.6 75.8L371.9 75.94L372.4 77.09L372.7 78.09L373 79.34L373.3 80.84L373.5 82.56L373.8 84.5L374.1 86.62L374.4 88.9L374.7 91.32L374.9 93.85L375.5 99.18L376.1 104.71L376.3 107.49L377.2 115.74L377.5 118.41L377.7 121.03L378.3 126.04L378.9 130.75L379.2 132.97L379.4 135.1L379.7 137.15L380.3 140.97L380.6 142.74L380.8 144.43L381.4 147.55L382 150.36L382.2 151.65L382.8 154.01L383.4 156.11L383.6 157.07L384.2 158.82L384.8 160.36L385 161.06L385.9 162.92L386.2 163.46L386.4 163.97L387.3 165.32L387.6 165.71L387.8 166.08L389.2 167.59L390.9 168.86L392.3 169.59L394.3 170.27L396.8 170.78L401 171.18L407.7 171.36L453.1 171.4" stroke="#33d818" stroke-width="2.20"/>
<path d="M350.8 171.4L356.4 171.3L358.1 171.02L359 170.7L360.1 169.91L360.7 169.28L360.9 168.89L361.5 167.91L362.1 166.63L362.3 165.85L362.6 164.97L362.9 163.99L363.2 162.88L363.5 161.66L363.7 160.3L364 158.8L364.3 157.16L364.6 155.36L364.9 153.42L365.1 151.32L365.4 149.06L365.7 146.65L366 144.09L366.3 141.38L366.5 138.54L366.8 135.57L367.1 132.5L367.7 126.08L367.9 122.77L369.1 109.51L369.3 106.33L369.6 103.25L369.9 100.31L370.2 97.54L370.5 94.98L370.7 92.64L371 90.55L371.3 88.75L371.6 87.24L372.1 85.18L372.4 84.66L372.7 84.49L373 84.6L373.3 84.94L373.8 86.27L374.1 87.25L374.4 88.43L374.7 89.79L374.9 91.32L375.2 93L375.5 94.82L376.1 98.81L376.3 100.94L376.9 105.4L377.5 110.01L377.7 112.34L378.9 121.53L379.2 123.75L379.4 125.92L380 130.09L380.6 134.02L380.8 135.88L381.4 139.41L382 142.66L382.2 144.18L382.8 147.03L383.4 149.61L383.6 150.81L384.2 153.04L384.8 155.04L385 155.96L385.9 158.45L386.2 159.19L386.4 159.89L387.3 161.77L387.6 162.33L387.8 162.86L388.7 164.26L389 164.68L389.2 165.07L390.4 166.43L390.6 166.72L392.3 168.15L393.7 169L395.4 169.73L397.4 170.31L400.2 170.81L404.7 171.18L412.2 171.36L453.1 171.4" stroke="#18d870" stroke-width="2.20"/>
<path d="M350.8 171.4L357 171.3L359 170.96L360.1 170.49L360.7 170.11L361.8 168.92L362.1 168.51L362.3 168.04L362.9 166.9L363.5 165.46L363.7 164.62L364.3 162.65L364.6 161.51L364.9 160.26L365.1 158.89L365.4 157.41L365.7 155.81L366 154.09L366.3 152.25L366.5 150.29L366.8 148.21L367.1 146.01L367.7 141.29L367.9 138.79L368.5 133.55L369.1 128.08L369.3 125.31L370.2 117.04L370.5 114.37L370.7 111.78L371 109.3L371.3 106.94L371.6 104.73L371.9 102.69L372.1 100.83L372.4 99.19L372.7 97.76L373 96.58L373.5 94.97L373.8 94.56L374.1 94.42L374.4 94.5L374.7 94.75L375.2 95.74L375.5 96.47L375.8 97.34L376.1 98.35L376.3 99.5L376.6 100.76L377.2 103.61L377.5 105.17L377.7 106.81L378.3 110.27L379.2 115.75L379.4 117.61L380.6 125.03L380.8 126.84L381.7 132.07L382 133.74L382.2 135.36L382.8 138.47L383.4 141.39L383.6 142.77L384.5 146.62L384.8 147.8L385 148.93L385.6 151.07L386.2 153.02L386.4 153.93L387.3 156.42L387.6 157.17L387.8 157.89L388.7 159.85L389 160.44L389.2 161L390.4 162.98L390.6 163.42L391.8 164.95L392 165.28L393.2 166.46L393.4 166.72L395.1 168.01L396.8 168.94L398.5 169.62L401 170.31L404.9 170.89L410 171.21L417.8 171.36L453.1 171.4" stroke="#18ccd8" stroke-width="2.20"/>
<path d="M350.8 171.06L354.2 170.63L356.7 169.97L358.1 169.39L359 168.94L360.7 167.71L361.2 167.18L362.1 166.24L362.3 165.89L363.5 164.24L363.7 163.75L364.6 162.12L364.9 161.51L365.1 160.86L366 158.67L366.3 157.86L366.5 157L367.1 155.14L367.7 153.08L367.9 151.97L368.5 149.6L369.1 147.01L369.3 145.63L369.9 142.72L370.5 139.61L370.7 137.98L371.6 132.87L371.9 131.11L372.1 129.32L373.3 122.09L373.5 120.31L374.4 115.19L374.7 113.59L374.9 112.07L375.2 110.63L375.5 109.29L375.8 108.06L376.1 106.94L376.3 105.95L376.6 105.1L376.9 104.39L377.2 103.84L377.7 103.19L378 103.11L378.6 103.33L378.9 103.61L379.2 104L379.4 104.49L380 105.77L380.6 107.44L380.8 108.4L381.4 110.55L382 112.97L382.2 114.26L383.1 118.41L383.4 119.85L383.6 121.32L384.8 127.31L385 128.8L386.2 134.66L386.4 136.08L387.3 140.16L387.6 141.46L387.8 142.72L388.7 146.31L389 147.43L389.2 148.51L390.1 151.54L390.4 152.48L390.6 153.38L391.5 155.88L391.8 156.64L392 157.37L392.9 159.38L393.2 159.98L393.4 160.57L394.3 162.15L394.6 162.63L394.8 163.09L396 164.7L396.2 165.06L397.9 166.83L399.6 168.13L401.3 169.06L403 169.73L405.5 170.4L409.1 170.92L414.5 171.24L420.9 171.36L453.1 171.4" stroke="#1859d8" stroke-width="2.20"/>
<path d="M350.8 171.08L354.5 170.64L356.7 170.11L358.4 169.48L359.8 168.74L360.7 168.16L362.1 166.93L362.3 166.63L363.5 165.24L363.7 164.84L364.6 163.48L364.9 162.98L365.1 162.44L366 160.63L366.3 159.96L366.5 159.25L367.4 156.88L367.7 156.01L367.9 155.1L368.8 152.09L369.1 150.99L369.3 149.85L370.2 146.13L370.5 144.81L370.7 143.43L371.6 139.08L371.9 137.55L372.1 136L373.3 129.58L373.5 127.96L374.7 121.6L374.9 120.09L375.5 117.22L376.1 114.62L376.3 113.45L376.9 111.4L377.2 110.55L377.5 109.81L377.7 109.19L378 108.71L378.3 108.36L378.6 108.15L378.9 108.08L379.2 108.13L379.7 108.52L380 108.85L380.6 109.81L380.8 110.41L381.4 111.88L382 113.64L382.2 114.62L383.1 117.91L383.4 119.11L383.6 120.34L384.8 125.54L385 126.88L386.2 132.28L386.4 133.62L387.6 138.83L387.8 140.07L388.7 143.67L389 144.81L389.2 145.92L390.1 149.06L390.4 150.04L390.6 150.99L391.5 153.64L391.8 154.46L392 155.25L392.9 157.44L393.2 158.11L393.4 158.75L394.3 160.52L394.6 161.06L394.8 161.57L396 163.4L396.2 163.81L397.7 165.56L397.9 165.86L399.6 167.38L401 168.33L402.7 169.19L404.4 169.81L406.9 170.43L410.5 170.93L416.1 171.24L422.6 171.36L453.1 171.4" stroke="#4a18d8" stroke-width="2.20"/>
<path d="M350.8 171.09L354.2 170.72L357 170.08L359 169.3L360.7 168.3L362.1 167.11L362.6 166.52L363.5 165.49L363.7 165.11L364.6 163.8L364.9 163.31L365.1 162.8L366 161.05L366.3 160.41L366.5 159.72L367.4 157.44L367.7 156.6L367.9 155.72L368.8 152.8L369.1 151.74L369.3 150.63L370.2 147.02L370.5 145.73L370.7 144.39L371.6 140.14L371.9 138.64L372.1 137.12L373.3 130.8L373.5 129.19L374.7 122.85L374.9 121.33L375.5 118.44L376.1 115.79L376.3 114.59L376.9 112.46L377.2 111.55L377.5 110.76L377.7 110.09L378 109.54L378.3 109.13L378.6 108.86L378.9 108.72L379.2 108.71L379.7 109L380.3 109.67L380.6 110.14L380.8 110.7L381.4 112.07L382 113.74L382.2 114.69L382.8 116.75L383.4 119.02L383.6 120.22L384.8 125.33L385 126.65L386.2 132L386.4 133.33L387.6 138.52L387.8 139.77L388.7 143.36L389 144.51L389.2 145.62L390.1 148.78L390.4 149.77L390.6 150.72L391.5 153.4L391.8 154.23L392 155.03L392.9 157.24L393.2 157.91L393.4 158.56L394.6 160.9L394.8 161.42L396 163.27L396.2 163.68L397.4 165.14L397.7 165.46L397.9 165.77L399.1 166.85L399.3 167.09L401 168.28L402.7 169.15L404.4 169.78L406.9 170.41L410.5 170.92L416.7 171.26L422.6 171.36L453.1 171.4" stroke="#bd18d8" stroke-width="2.20"/>
<path d="M350.8 171.11L354.5 170.7L357 170.13L359 169.39L360.7 168.42L362.1 167.29L362.3 167.01L363.5 165.74L363.7 165.37L364.9 163.64L365.1 163.14L366 161.46L366.3 160.84L366.5 160.18L367.4 157.98L367.7 157.17L367.9 156.32L368.8 153.49L369.1 152.46L369.3 151.39L370.2 147.89L370.5 146.63L370.7 145.33L371.6 141.17L371.9 139.71L372.1 138.22L373.3 132L373.5 130.4L374.7 124.1L374.9 122.58L375.5 119.66L376.1 116.97L376.3 115.74L376.9 113.53L377.2 112.58L377.5 111.74L377.7 111.01L378 110.41L378.3 109.94L378.6 109.6L378.9 109.39L379.2 109.32L379.7 109.51L380.3 110.08L380.6 110.5L380.8 111.01L381.4 112.29L382 113.87L382.2 114.77L382.8 116.76L383.4 118.96L383.6 120.13L384.8 125.13L385 126.44L386.2 131.73L386.4 133.05L387.6 138.22L387.8 139.46L388.7 143.06L389 144.21L389.2 145.33L390.1 148.5L390.4 149.49L390.6 150.46L391.5 153.16L391.8 153.99L392 154.8L392.9 157.03L393.2 157.72L393.4 158.37L394.6 160.73L394.8 161.26L396 163.14L396.2 163.56L397.4 165.04L397.7 165.37L397.9 165.68L399.1 166.77L399.3 167.01L401 168.22L402.7 169.11L404.9 169.92L407.7 170.55L411.9 171.03L418.4 171.3L433.8 171.4L453.1 171.4" stroke="#d81880" stroke-width="2.20"/>
</g>
<path d="M350.50 13.20 V171.50 H453.15" fill="none" stroke="#222" stroke-width="0.9"/>
<path d="M347.93 171.40 H350.50" stroke="#222" stroke-width="0.8"/>
<text x="345.70" y="175.10" font-size="8.40" text-anchor="end" textLength="4.66" lengthAdjust="spacingAndGlyphs">0</text>
<path d="M347.93 140.36 H350.50" stroke="#222" stroke-width="0.8"/>
<text x="345.70" y="144.06" font-size="8.40" text-anchor="end" textLength="23.32" lengthAdjust="spacingAndGlyphs">50000</text>
<path d="M347.93 109.32 H350.50" stroke="#222" stroke-width="0.8"/>
<text x="345.70" y="113.02" font-size="8.40" text-anchor="end" textLength="27.98" lengthAdjust="spacingAndGlyphs">100000</text>
<path d="M347.93 78.28 H350.50" stroke="#222" stroke-width="0.8"/>
<text x="345.70" y="81.98" font-size="8.40" text-anchor="end" textLength="27.98" lengthAdjust="spacingAndGlyphs">150000</text>
<path d="M347.93 47.24 H350.50" stroke="#222" stroke-width="0.8"/>
<text x="345.70" y="50.94" font-size="8.40" text-anchor="end" textLength="27.98" lengthAdjust="spacingAndGlyphs">200000</text>
<path d="M347.93 16.20 H350.50" stroke="#222" stroke-width="0.8"/>
<text x="345.70" y="19.90" font-size="8.40" text-anchor="end" textLength="27.98" lengthAdjust="spacingAndGlyphs">250000</text>
<path d="M350.84 171.50 V174.07" stroke="#222" stroke-width="0.8"/>
<text x="351.24" y="182.70" font-size="8.40" text-anchor="middle" textLength="4.66" lengthAdjust="spacingAndGlyphs">0</text>
<path d="M376.07 171.50 V174.07" stroke="#222" stroke-width="0.8"/>
<text x="376.47" y="182.70" font-size="8.40" text-anchor="middle" textLength="9.33" lengthAdjust="spacingAndGlyphs">90</text>
<path d="M401.29 171.50 V174.07" stroke="#222" stroke-width="0.8"/>
<text x="401.69" y="182.70" font-size="8.40" text-anchor="middle" textLength="13.99" lengthAdjust="spacingAndGlyphs">180</text>
<path d="M426.52 171.50 V174.07" stroke="#222" stroke-width="0.8"/>
<text x="426.92" y="182.70" font-size="8.40" text-anchor="middle" textLength="13.99" lengthAdjust="spacingAndGlyphs">270</text>
<path d="M451.75 171.50 V174.07" stroke="#222" stroke-width="0.8"/>
<text x="452.15" y="182.70" font-size="8.40" text-anchor="middle" textLength="13.99" lengthAdjust="spacingAndGlyphs">360</text>
<text x="378.44" y="8.85" font-size="9.5" font-weight="bold" style="stroke-width:0.3px" textLength="12.91" lengthAdjust="spacingAndGlyphs">VE</text>
<text x="404.94" y="8.85" font-size="9.5" font-weight="bold" style="stroke-width:0.3px" textLength="21.21" lengthAdjust="spacingAndGlyphs">30%</text>
<text x="398.15" y="9.55" font-size="9.2" font-weight="bold" style="stroke-width:0.3px" text-anchor="middle">=</text>
<text x="329.80" y="8.90" font-size="12.4" font-weight="bold" style="stroke-width:0.45px" textLength="8.66" lengthAdjust="spacingAndGlyphs">C</text>
<g clip-path="url(#c3)" fill="none" stroke-linejoin="round" stroke-linecap="butt">
<path d="M503.6 171.4L507.8 171.29L508.9 171.05L509.7 170.63L510.3 170.12L510.6 169.76L511.4 168.13L511.7 167.34L512 166.38L512.2 165.23L512.5 163.88L512.8 162.28L513.1 160.41L513.4 158.24L513.7 155.75L513.9 152.9L514.2 149.66L514.5 146.02L514.8 141.96L515.1 137.47L515.3 132.54L515.6 127.16L515.9 121.37L516.2 115.16L516.5 108.59L516.7 101.69L517 94.53L517.3 87.15L517.9 72.12L518.1 64.64L518.4 57.32L518.7 50.27L519 43.59L519.3 37.39L519.5 31.77L519.8 26.83L520.1 22.67L520.4 19.34L520.7 16.92L520.9 15.45L521.2 14.96L521.5 15.41L521.8 16.77L522.1 19L522.3 22.05L522.6 25.85L522.9 30.33L523.2 35.38L523.5 40.92L523.7 46.84L524 53.04L524.6 65.92L524.9 72.42L525.1 78.87L525.4 85.19L525.7 91.34L526 97.28L526.3 102.96L526.5 108.37L526.8 113.49L527.1 118.3L527.4 122.82L527.7 127.03L527.9 130.94L528.2 134.56L528.5 137.91L528.8 140.99L529.1 143.81L529.3 146.4L529.6 148.77L529.9 150.93L530.2 152.9L530.5 154.69L530.7 156.32L531 157.8L531.3 159.14L531.6 160.35L531.9 161.44L532.2 162.43L532.4 163.33L533 164.86L533.6 166.11L533.8 166.65L534.7 167.95L535.2 168.61L536.1 169.38L536.9 169.94L538.3 170.55L540 170.95L542.8 171.25L546.2 171.36L605.9 171.4" stroke="#000" stroke-width="1.10"/>
<path d="M503.6 171.4L508 171.29L509.2 171.07L510.3 170.53L510.6 170.31L511.4 169.28L511.7 168.79L512 168.19L512.2 167.49L512.5 166.65L512.8 165.67L513.1 164.52L513.4 163.19L513.7 161.66L513.9 159.9L514.2 157.89L514.5 155.62L514.8 153.07L515.1 150.23L515.3 147.07L515.6 143.6L515.9 139.8L516.2 135.68L516.5 131.24L516.7 126.5L517 121.47L517.3 116.17L517.6 110.65L517.9 104.94L518.1 99.08L519 81.23L519.3 75.4L519.5 69.75L519.8 64.35L520.1 59.28L520.4 54.6L520.7 50.39L520.9 46.71L521.2 43.62L521.5 41.16L521.8 39.37L522.1 38.29L522.3 37.93L522.6 38.23L522.9 39.12L523.2 40.59L523.5 42.62L523.7 45.16L524 48.17L524.3 51.6L524.6 55.41L524.9 59.52L525.1 63.89L525.4 68.45L526 77.94L526.3 82.76L526.5 87.58L527.1 97.03L527.4 101.61L527.7 106.04L527.9 110.32L528.2 114.43L528.5 118.35L528.8 122.09L529.1 125.63L529.3 128.98L529.6 132.13L529.9 135.09L530.2 137.86L530.5 140.45L530.7 142.87L531 145.12L531.3 147.21L531.6 149.15L531.9 150.95L532.2 152.61L532.4 154.15L533 156.87L533.3 158.08L533.6 159.19L533.8 160.21L534.4 162.01L535 163.53L535.2 164.19L535.8 165.37L536.4 166.35L536.6 166.78L537.5 167.87L538 168.45L539.4 169.52L541.1 170.3L542.8 170.76L545.3 171.12L549.5 171.33L557.9 171.4L605.9 171.4" stroke="#d82318" stroke-width="2.20"/>
<path d="M503.6 171.4L508.6 171.29L510 171.01L510.6 170.79L511.7 169.98L512 169.66L512.8 168.32L513.4 166.99L513.7 166.16L513.9 165.2L514.2 164.11L514.5 162.86L514.8 161.44L515.1 159.85L515.3 158.06L515.6 156.07L515.9 153.86L516.2 151.43L516.5 148.77L516.7 145.88L517 142.75L517.3 139.4L517.6 135.81L517.9 132.02L518.1 128.02L518.4 123.84L518.7 119.5L519.3 110.47L519.5 105.85L520.4 92.05L520.7 87.63L520.9 83.38L521.2 79.34L521.5 75.58L521.8 72.13L522.1 69.04L522.3 66.35L522.6 64.09L522.9 62.31L523.2 61.01L523.5 60.23L523.7 59.97L524 60.16L524.3 60.74L524.6 61.7L524.9 63.03L525.1 64.7L525.4 66.69L525.7 68.98L526 71.53L526.3 74.32L526.5 77.31L526.8 80.46L527.1 83.75L527.7 90.6L527.9 94.1L528.8 104.59L529.1 108.01L529.3 111.36L529.9 117.79L530.5 123.81L530.7 126.64L531 129.36L531.3 131.95L531.6 134.42L531.9 136.77L532.2 138.99L532.4 141.09L532.7 143.08L533 144.96L533.3 146.72L533.6 148.38L533.8 149.94L534.4 152.78L535 155.26L535.2 156.39L535.8 158.42L536.4 160.18L536.6 160.98L537.2 162.4L537.8 163.64L538 164.2L538.9 165.64L539.2 166.05L539.4 166.44L540.3 167.44L540.6 167.72L540.8 167.99L542.5 169.23L544.2 170.02L545.9 170.52L548.7 170.99L552.9 171.27L565.2 171.4L605.9 171.4" stroke="#d89718" stroke-width="2.20"/>
<path d="M503.6 171.4L508.9 171.3L510.6 171.02L511.7 170.53L512 170.34L512.8 169.54L513.4 168.74L513.7 168.24L513.9 167.67L514.2 167.01L514.5 166.25L514.8 165.39L515.1 164.42L515.3 163.32L515.6 162.09L515.9 160.72L516.2 159.2L516.5 157.53L516.7 155.69L517 153.68L517.3 151.5L517.6 149.15L517.9 146.63L518.1 143.94L518.4 141.09L518.7 138.08L519 134.93L519.3 131.66L519.5 128.28L520.1 121.27L520.7 114.11L520.9 110.55L521.5 103.62L521.8 100.32L522.1 97.18L522.3 94.24L522.6 91.52L522.9 89.05L523.2 86.88L523.5 85.01L523.7 83.48L524 82.31L524.3 81.51L524.6 81.08L524.9 81.03L525.1 81.26L525.4 81.74L525.7 82.47L526 83.44L526.3 84.64L526.5 86.04L526.8 87.65L527.1 89.43L527.4 91.37L527.7 93.45L527.9 95.66L528.5 100.35L529.1 105.3L529.3 107.82L530.5 117.86L530.7 120.31L531.3 125.04L531.9 129.52L532.2 131.66L532.4 133.72L533 137.61L533.6 141.19L533.8 142.86L534.4 145.98L535 148.8L535.2 150.11L535.8 152.52L536.4 154.67L536.6 155.67L537.2 157.49L537.8 159.11L538 159.85L538.9 161.83L539.2 162.41L539.4 162.96L540.3 164.41L540.6 164.84L540.8 165.25L542 166.63L542.2 166.92L543.6 168.15L545.3 169.18L547 169.89L549.5 170.55L552.6 170.98L557.7 171.27L572 171.4L605.9 171.4" stroke="#a6d818" stroke-width="2.20"/>
<path d="M503.6 171.4L509.4 171.29L510.8 171.07L512 170.67L513.1 169.86L513.7 169.23L513.9 168.84L514.5 167.87L515.1 166.6L515.3 165.84L515.6 164.99L515.9 164.04L516.2 162.98L516.5 161.8L516.7 160.51L517 159.09L517.3 157.54L517.6 155.86L517.9 154.04L518.1 152.09L518.4 150.01L518.7 147.79L519 145.45L519.3 143L519.5 140.44L520.1 135.03L520.7 129.37L520.9 126.49L521.8 117.91L522.1 115.16L522.3 112.5L522.6 109.96L522.9 107.57L523.2 105.35L523.5 103.33L523.7 101.53L524 99.96L524.3 98.66L524.6 97.63L525.1 96.43L525.4 96.28L525.7 96.37L526 96.65L526.3 97.1L526.5 97.72L526.8 98.51L527.1 99.46L527.4 100.56L527.7 101.8L527.9 103.16L528.2 104.63L528.8 107.88L529.1 109.61L529.3 111.41L530.5 118.98L530.7 120.9L531.9 128.47L532.2 130.29L532.4 132.07L533.3 137.15L533.6 138.74L533.8 140.29L534.4 143.21L535 145.91L535.2 147.18L535.8 149.56L536.4 151.74L536.6 152.76L537.5 155.53L537.8 156.36L538 157.16L538.9 159.31L539.2 159.96L539.4 160.58L540.3 162.23L540.6 162.73L540.8 163.2L541.7 164.47L542 164.84L542.2 165.2L543.4 166.45L543.6 166.72L545.3 168.07L547 169.03L548.4 169.61L550.4 170.2L553.5 170.76L557.9 171.14L566.6 171.36L605.9 171.4" stroke="#33d818" stroke-width="2.20"/>
<path d="M503.6 171.4L509.7 171.3L511.4 171.04L512.5 170.62L513.4 170.07L513.7 169.82L514.8 168.4L515.1 167.91L515.3 167.35L515.9 166.03L516.5 164.39L516.7 163.43L517 162.38L517.6 159.96L517.9 158.6L518.1 157.13L518.4 155.55L518.7 153.86L519 152.06L519.3 150.16L519.5 148.17L520.1 143.92L520.7 139.38L520.9 137.03L522.1 127.51L522.3 125.19L522.9 120.75L523.2 118.68L523.5 116.73L523.7 114.93L524 113.28L524.3 111.82L524.6 110.56L524.9 109.5L525.1 108.67L525.4 108.07L525.7 107.7L526 107.58L526.3 107.65L526.8 108.19L527.1 108.66L527.4 109.26L527.7 109.97L527.9 110.8L528.5 112.77L529.1 115.1L529.3 116.38L529.9 119.1L530.5 122L530.7 123.5L532.2 131.07L532.4 132.57L533.3 136.92L533.6 138.31L533.8 139.67L534.7 143.54L535 144.75L535.2 145.92L536.1 149.2L536.4 150.22L536.6 151.19L537.5 153.89L537.8 154.71L538 155.5L538.9 157.68L539.2 158.34L539.4 158.97L540.3 160.69L540.6 161.22L540.8 161.71L542 163.48L542.2 163.87L543.4 165.26L543.6 165.56L544.8 166.64L545 166.88L546.7 168.07L548.1 168.82L549.8 169.51L552.3 170.21L555.7 170.76L560.7 171.15L570.3 171.36L605.9 171.4" stroke="#18d870" stroke-width="2.20"/>
<path d="M503.6 171.4L511.1 171.31L513.4 171.05L515.1 170.51L516.5 169.62L517.6 168.44L517.9 168.06L518.1 167.65L519 166.13L519.3 165.53L519.5 164.88L520.1 163.41L520.7 161.72L520.9 160.78L521.5 158.73L522.1 156.44L522.3 155.21L522.9 152.57L523.5 149.74L523.7 148.25L524.6 143.6L524.9 142L525.1 140.39L526.3 134.01L526.5 132.47L527.1 129.53L527.7 126.84L527.9 125.61L528.5 123.41L528.8 122.47L529.1 121.64L529.3 120.92L529.6 120.33L529.9 119.86L530.2 119.52L530.7 119.25L531.3 119.39L531.9 119.81L532.2 120.12L532.4 120.49L533 121.42L533.6 122.58L533.8 123.23L534.7 125.46L535 126.28L535.2 127.13L536.4 130.77L536.6 131.73L537.8 135.6L538 136.58L539.2 140.4L539.4 141.33L540.6 144.92L540.8 145.77L542 149L542.2 149.76L543.4 152.6L543.6 153.26L544.8 155.71L545 156.28L546.2 158.36L546.4 158.84L547.6 160.6L547.8 161L549 162.47L549.2 162.8L550.7 164.3L550.9 164.57L552.6 165.98L554.3 167.11L555.7 167.86L557.4 168.6L559.9 169.43L563 170.12L567.2 170.69L573.6 171.11L583.4 171.33L605.9 171.4" stroke="#18ccd8" stroke-width="2.20"/>
<path d="M503.6 171.31L510 171.04L513.9 170.58L516.5 170.01L518.4 169.32L519.3 168.94L520.7 168.13L522.1 167.08L522.6 166.57L523.5 165.71L523.7 165.39L524.9 163.96L525.1 163.56L526.3 161.75L526.5 161.25L527.7 159.02L527.9 158.41L529.1 155.74L529.3 155.01L530.5 151.92L530.7 151.1L532.2 146.82L532.4 145.94L533.6 142.43L533.8 141.57L535 138.34L535.2 137.6L536.1 135.6L536.4 135.02L536.6 134.49L537.2 133.6L538 132.72L538.6 132.45L539.2 132.44L540 132.85L540.6 133.38L541.1 134.11L542 135.54L542.2 136.09L543.1 137.96L543.4 138.64L543.6 139.35L544.8 142.34L545 143.12L546.2 146.29L546.4 147.08L547.6 150.18L547.8 150.94L549 153.81L549.2 154.49L550.4 157.05L550.7 157.64L550.9 158.22L552.1 160.34L552.3 160.83L553.5 162.6L553.7 163L554.9 164.46L555.1 164.78L556.3 165.95L556.5 166.21L558.2 167.55L559.6 168.41L561.3 169.2L563 169.79L565.8 170.44L569.4 170.92L575.3 171.24L582.3 171.36L605.9 171.4" stroke="#1859d8" stroke-width="2.20"/>
<path d="M503.6 171.32L511.1 171.06L515.3 170.63L517.9 170.15L520.1 169.49L522.1 168.63L523.5 167.81L524.9 166.77L525.4 166.28L526.3 165.46L526.5 165.16L527.7 163.82L527.9 163.45L529.1 161.82L529.3 161.37L530.5 159.42L530.7 158.9L532.2 156.03L532.4 155.42L533.6 152.85L533.8 152.18L535 149.48L535.2 148.8L536.4 146.15L536.6 145.51L537.8 143.14L538 142.61L538.9 141.2L539.2 140.8L539.4 140.44L540.3 139.6L540.8 139.27L541.4 139.12L542 139.16L543.1 139.7L543.4 139.93L544.8 141.57L545 141.99L546.2 143.9L546.4 144.43L547.6 146.7L547.8 147.29L549 149.72L549.2 150.33L550.7 153.34L550.9 153.93L552.1 156.18L552.3 156.72L553.5 158.76L553.7 159.24L554.9 161.03L555.1 161.44L556.3 162.97L556.5 163.32L557.7 164.6L557.9 164.89L559.1 165.95L559.3 166.19L561 167.44L562.7 168.4L564.1 169.03L565.8 169.62L568.6 170.3L572.5 170.84L578.4 171.2L587.1 171.36L605.9 171.4" stroke="#4a18d8" stroke-width="2.20"/>
<path d="M503.6 171.32L511.1 171.06L515.1 170.68L517.9 170.17L520.7 169.31L522.1 168.68L523.5 167.88L524.9 166.85L526.3 165.57L526.5 165.27L527.7 163.96L527.9 163.6L529.1 162L529.3 161.56L530.5 159.65L530.7 159.13L532.2 156.32L532.4 155.71L533.6 153.18L533.8 152.52L535 149.84L535.2 149.17L536.4 146.52L536.6 145.88L537.8 143.5L538 142.96L538.9 141.51L539.2 141.1L539.4 140.72L540.3 139.83L540.8 139.46L541.7 139.24L542.5 139.42L543.4 139.93L544.5 141.1L544.8 141.47L545 141.87L546.2 143.72L546.4 144.24L547.6 146.46L547.8 147.04L549 149.44L549.2 150.04L550.7 153.05L550.9 153.63L552.1 155.9L552.3 156.44L553.5 158.49L553.7 158.97L554.9 160.78L555.1 161.2L556.3 162.75L556.5 163.11L557.7 164.41L557.9 164.71L559.1 165.79L559.3 166.04L561 167.31L562.7 168.3L564.1 168.95L566.6 169.8L569.7 170.46L574.2 170.97L580.9 171.27L600 171.4L605.9 171.4" stroke="#bd18d8" stroke-width="2.20"/>
<path d="M503.6 171.32L510.8 171.08L515.1 170.68L518.1 170.11L520.4 169.43L522.1 168.7L523.5 167.9L524.9 166.88L526.3 165.6L526.8 165L527.7 164.01L527.9 163.65L529.1 162.06L529.3 161.62L530.5 159.72L530.7 159.2L532.2 156.41L532.4 155.8L533.6 153.28L533.8 152.63L535 149.97L535.2 149.3L536.4 146.66L536.6 146.03L537.8 143.66L538 143.12L538.9 141.69L539.2 141.28L539.4 140.9L540.3 140.01L540.8 139.64L541.4 139.45L542.2 139.51L543.1 139.9L543.4 140.11L544.8 141.64L545 142.04L546.2 143.88L546.4 144.39L547.6 146.6L547.8 147.18L549 149.56L549.2 150.17L550.7 153.15L550.9 153.74L552.1 155.99L552.3 156.52L553.5 158.57L553.7 159.05L554.9 160.84L555.1 161.26L556.3 162.8L556.5 163.16L557.7 164.45L557.9 164.75L559.1 165.82L559.3 166.07L561 167.34L562.7 168.32L564.4 169.08L566.9 169.89L570.3 170.55L575.3 171.05L582.3 171.3L605.9 171.4" stroke="#d81880" stroke-width="2.20"/>
</g>
<path d="M503.50 13.20 V171.50 H605.87" fill="none" stroke="#222" stroke-width="0.9"/>
<path d="M500.93 171.40 H503.50" stroke="#222" stroke-width="0.8"/>
<text x="498.42" y="175.10" font-size="8.40" text-anchor="end" textLength="4.66" lengthAdjust="spacingAndGlyphs">0</text>
<path d="M500.93 140.36 H503.50" stroke="#222" stroke-width="0.8"/>
<text x="498.42" y="144.06" font-size="8.40" text-anchor="end" textLength="23.32" lengthAdjust="spacingAndGlyphs">50000</text>
<path d="M500.93 109.32 H503.50" stroke="#222" stroke-width="0.8"/>
<text x="498.42" y="113.02" font-size="8.40" text-anchor="end" textLength="27.98" lengthAdjust="spacingAndGlyphs">100000</text>
<path d="M500.93 78.28 H503.50" stroke="#222" stroke-width="0.8"/>
<text x="498.42" y="81.98" font-size="8.40" text-anchor="end" textLength="27.98" lengthAdjust="spacingAndGlyphs">150000</text>
<path d="M500.93 47.24 H503.50" stroke="#222" stroke-width="0.8"/>
<text x="498.42" y="50.94" font-size="8.40" text-anchor="end" textLength="27.98" lengthAdjust="spacingAndGlyphs">200000</text>
<path d="M500.93 16.20 H503.50" stroke="#222" stroke-width="0.8"/>
<text x="498.42" y="19.90" font-size="8.40" text-anchor="end" textLength="27.98" lengthAdjust="spacingAndGlyphs">250000</text>
<path d="M503.56 171.50 V174.07" stroke="#222" stroke-width="0.8"/>
<text x="503.96" y="182.70" font-size="8.40" text-anchor="middle" textLength="4.66" lengthAdjust="spacingAndGlyphs">0</text>
<path d="M528.79 171.50 V174.07" stroke="#222" stroke-width="0.8"/>
<text x="529.19" y="182.70" font-size="8.40" text-anchor="middle" textLength="9.33" lengthAdjust="spacingAndGlyphs">90</text>
<path d="M554.01 171.50 V174.07" stroke="#222" stroke-width="0.8"/>
<text x="554.41" y="182.70" font-size="8.40" text-anchor="middle" textLength="13.99" lengthAdjust="spacingAndGlyphs">180</text>
<path d="M579.24 171.50 V174.07" stroke="#222" stroke-width="0.8"/>
<text x="579.64" y="182.70" font-size="8.40" text-anchor="middle" textLength="13.99" lengthAdjust="spacingAndGlyphs">270</text>
<path d="M604.47 171.50 V174.07" stroke="#222" stroke-width="0.8"/>
<text x="604.87" y="182.70" font-size="8.40" text-anchor="middle" textLength="13.99" lengthAdjust="spacingAndGlyphs">360</text>
<text x="531.16" y="8.85" font-size="9.5" font-weight="bold" style="stroke-width:0.3px" textLength="12.91" lengthAdjust="spacingAndGlyphs">VE</text>
<text x="557.66" y="8.85" font-size="9.5" font-weight="bold" style="stroke-width:0.3px" textLength="21.21" lengthAdjust="spacingAndGlyphs">40%</text>
<text x="550.87" y="9.55" font-size="9.2" font-weight="bold" style="stroke-width:0.3px" text-anchor="middle">=</text>
<text x="483.50" y="8.90" font-size="12.4" font-weight="bold" style="stroke-width:0.45px" textLength="9.80" lengthAdjust="spacingAndGlyphs">D</text>
<g clip-path="url(#c4)" fill="none" stroke-linejoin="round" stroke-linecap="butt">
<path d="M656.3 171.4L660.5 171.29L661.9 170.94L662.4 170.63L663 170.12L663.6 169.33L663.8 168.79L664.1 168.13L664.4 167.34L664.7 166.38L665 165.23L665.2 163.88L665.5 162.28L665.8 160.41L666.1 158.24L666.4 155.75L666.7 152.9L666.9 149.66L667.2 146.02L667.5 141.96L667.8 137.47L668.1 132.54L668.3 127.16L668.6 121.37L668.9 115.16L669.2 108.59L669.5 101.69L669.7 94.53L670 87.15L670.9 64.64L671.1 57.32L671.4 50.27L671.7 43.59L672 37.39L672.3 31.77L672.5 26.83L672.8 22.67L673.1 19.34L673.4 16.92L673.7 15.45L673.9 14.96L674.2 15.41L674.5 16.77L674.8 19L675.1 22.05L675.3 25.85L675.6 30.33L675.9 35.38L676.2 40.92L676.5 46.84L676.7 53.04L677 59.43L677.9 78.87L678.1 85.19L678.4 91.34L678.7 97.28L679 102.96L679.3 108.37L679.5 113.49L679.8 118.3L680.1 122.82L680.4 127.03L680.7 130.94L680.9 134.56L681.2 137.91L681.5 140.99L681.8 143.81L682.1 146.4L682.3 148.77L682.6 150.93L682.9 152.9L683.2 154.69L683.5 156.32L683.7 157.8L684 159.14L684.3 160.35L684.9 162.43L685.2 163.33L685.4 164.14L686 165.52L686.6 166.65L686.8 167.13L687.7 168.3L688.2 168.9L689.6 169.94L691.3 170.63L693.3 171.04L696.6 171.3L704.5 171.4L758.6 171.4" stroke="#000" stroke-width="1.10"/>
<path d="M656.3 171.4L661 171.29L662.2 171.1L663.3 170.63L663.6 170.43L664.4 169.58L665 168.69L665.2 168.11L665.5 167.44L665.8 166.65L666.1 165.72L666.4 164.66L666.7 163.43L666.9 162.03L667.2 160.43L667.5 158.62L667.8 156.58L668.1 154.31L668.3 151.78L668.6 149L668.9 145.93L669.2 142.6L669.5 138.98L669.7 135.09L670 130.94L670.3 126.52L670.6 121.87L670.9 117.01L671.1 111.96L671.4 106.76L672.3 90.67L672.5 85.31L672.8 80.05L673.1 74.93L673.4 70.03L673.7 65.41L673.9 61.11L674.2 57.2L674.5 53.73L674.8 50.75L675.1 48.3L675.3 46.41L675.6 45.12L675.9 44.43L676.2 44.36L676.5 44.81L677 47.17L677.3 49.04L677.6 51.33L677.9 54.02L678.1 57.05L678.4 60.4L678.7 64.01L679 67.84L679.3 71.85L679.5 75.98L680.7 93.02L680.9 97.23L681.2 101.37L681.5 105.4L681.8 109.32L682.1 113.11L682.3 116.76L682.6 120.25L682.9 123.59L683.2 126.77L683.5 129.79L683.7 132.65L684 135.34L684.3 137.88L684.6 140.27L684.9 142.52L685.2 144.62L685.4 146.58L685.7 148.42L686 150.13L686.3 151.72L686.6 153.2L686.8 154.58L687.4 157.05L688 159.17L688.2 160.12L688.8 161.8L689.4 163.24L689.6 163.88L690.5 165.52L690.8 165.98L691 166.41L691.9 167.5L692.4 168.09L693.8 169.21L695.5 170.07L697.2 170.59L699.7 171.02L704.2 171.3L714.6 171.4L758.6 171.4" stroke="#d82318" stroke-width="2.20"/>
<path d="M656.3 171.4L661.3 171.3L662.7 171.08L663.6 170.78L664.7 169.97L665 169.67L665.2 169.3L665.8 168.37L666.1 167.79L666.7 166.33L666.9 165.43L667.2 164.41L667.5 163.25L667.8 161.94L668.1 160.47L668.3 158.82L668.6 157L668.9 154.99L669.2 152.78L669.5 150.38L669.7 147.77L670 144.95L670.3 141.94L670.6 138.74L670.9 135.35L671.1 131.8L671.4 128.09L671.7 124.26L672.3 116.3L672.5 112.23L673.1 104.12L673.4 100.15L673.7 96.29L673.9 92.58L674.2 89.07L674.5 85.8L674.8 82.8L675.1 80.12L675.3 77.78L675.6 75.83L675.9 74.28L676.2 73.16L676.5 72.49L676.7 72.26L677 72.42L677.3 72.89L677.6 73.67L677.9 74.74L678.1 76.1L678.4 77.73L678.7 79.59L679 81.69L679.3 83.97L679.5 86.43L679.8 89.04L680.4 94.58L680.7 97.47L680.9 100.41L682.1 112.2L682.3 115.07L682.9 120.63L683.5 125.88L683.7 128.38L684.3 133.09L684.9 137.41L685.2 139.42L685.4 141.34L686 144.88L686.3 146.52L686.6 148.06L686.8 149.52L687.4 152.2L688 154.57L688.2 155.66L688.8 157.63L689.4 159.37L689.6 160.15L690.5 162.23L690.8 162.84L691 163.4L691.9 164.89L692.2 165.33L692.4 165.73L693.6 167.1L693.8 167.39L695.2 168.57L696.9 169.53L698.6 170.17L701.1 170.74L704.8 171.14L712.1 171.36L758.6 171.4" stroke="#d89718" stroke-width="2.20"/>
<path d="M656.3 171.4L662.2 171.29L663.8 171.01L665 170.54L666.1 169.62L666.7 168.9L666.9 168.46L667.5 167.38L668.1 165.98L668.3 165.15L668.6 164.22L668.9 163.19L669.2 162.04L669.5 160.78L669.7 159.39L670 157.88L670.3 156.24L670.6 154.47L670.9 152.57L671.1 150.54L671.4 148.38L671.7 146.1L672 143.7L672.3 141.2L672.5 138.61L673.1 133.2L673.7 127.61L673.9 124.79L674.5 119.24L674.8 116.55L675.1 113.96L675.3 111.48L675.6 109.15L675.9 106.99L676.2 105.01L676.5 103.26L676.7 101.73L677 100.46L677.3 99.46L677.6 98.73L677.9 98.29L678.1 98.15L678.4 98.23L678.7 98.5L679 98.93L679.3 99.53L679.5 100.29L679.8 101.21L680.1 102.27L680.4 103.46L680.7 104.77L680.9 106.2L681.5 109.33L682.1 112.75L682.3 114.53L683.5 121.92L683.7 123.78L684.6 129.25L685.2 132.75L685.4 134.44L686.3 139.24L686.6 140.74L686.8 142.19L687.4 144.93L688 147.47L688.2 148.66L689.1 151.93L689.4 152.92L689.6 153.87L690.5 156.46L690.8 157.24L691 157.98L691.9 160L692.2 160.6L692.4 161.18L693.3 162.73L693.6 163.19L693.8 163.63L695 165.18L695.2 165.51L696.6 166.94L698.3 168.21L699.7 168.99L701.4 169.68L703.9 170.36L707.3 170.87L712.9 171.23L719.6 171.36L758.6 171.4" stroke="#a6d818" stroke-width="2.20"/>
<path d="M656.3 171.4L662.7 171.29L664.4 171.01L665.2 170.71L666.1 170.22L666.7 169.75L667.8 168.31L668.1 167.82L668.3 167.27L668.9 165.96L669.5 164.34L669.7 163.41L670.3 161.28L670.9 158.77L671.1 157.37L671.7 154.28L672.3 150.84L672.5 148.99L673.1 145.09L673.7 140.98L673.9 138.87L675.1 130.49L675.3 128.49L675.9 124.73L676.2 123.01L676.5 121.41L676.7 119.96L677 118.66L677.3 117.54L677.6 116.61L678.1 115.34L678.4 115.02L678.7 114.91L679 114.96L679.3 115.14L679.8 115.82L680.1 116.32L680.7 117.62L680.9 118.41L681.5 120.23L682.1 122.33L682.3 123.47L683.2 127.11L683.5 128.39L683.7 129.67L685.2 136.17L685.4 137.44L686.3 141.14L686.6 142.32L686.8 143.48L687.7 146.76L688 147.79L688.2 148.79L689.1 151.59L689.4 152.46L689.6 153.29L690.5 155.61L690.8 156.32L691 157.01L691.9 158.89L692.2 159.46L692.4 160.01L693.6 161.98L693.8 162.42L695 163.99L695.2 164.34L696.4 165.58L696.6 165.85L698.3 167.25L699.7 168.15L701.4 168.97L703.4 169.68L706.2 170.34L709.8 170.84L715.7 171.2L724.4 171.36L758.6 171.4" stroke="#33d818" stroke-width="2.20"/>
<path d="M656.3 171.4L662.7 171.31L664.4 171.1L665.5 170.78L666.7 170.16L667.8 169.08L668.1 168.71L668.3 168.3L668.9 167.31L669.5 166.09L669.7 165.39L670.3 163.77L670.9 161.85L671.1 160.78L671.7 158.42L672.3 155.76L672.5 154.33L673.4 149.69L673.7 148.05L673.9 146.38L675.1 139.65L675.3 138.01L675.9 134.88L676.5 132.06L676.7 130.79L677 129.64L677.3 128.62L677.6 127.73L677.9 126.99L678.1 126.41L678.4 125.99L678.7 125.73L679 125.65L679.3 125.69L679.8 126.02L680.4 126.68L680.7 127.12L680.9 127.63L681.5 128.85L682.1 130.31L682.3 131.11L683.2 133.73L683.5 134.67L683.7 135.62L685.2 140.54L685.4 141.53L686.6 145.38L686.8 146.3L688 149.8L688.2 150.63L689.4 153.69L689.6 154.39L690.8 156.99L691 157.58L692.2 159.74L692.4 160.22L693.6 162L693.8 162.4L695 163.84L695.2 164.16L696.4 165.33L696.6 165.59L698.3 166.94L699.7 167.83L701.4 168.66L703.1 169.31L705.9 170.06L709.5 170.65L715.1 171.09L724.1 171.33L758.6 171.4" stroke="#18d870" stroke-width="2.20"/>
<path d="M656.3 171.29L661.6 171.04L665 170.62L667.5 170.02L669.5 169.26L670.9 168.48L672.3 167.44L673.7 166.08L673.9 165.76L675.1 164.31L675.3 163.9L676.5 162.07L676.7 161.56L677.9 159.33L678.1 158.72L679.3 156.1L679.5 155.41L680.7 152.53L680.9 151.8L682.1 148.89L682.3 148.18L683.5 145.58L683.7 145L684.3 143.95L685.4 142.43L686 142L686.6 141.8L687.4 141.89L688 142.14L689.1 143.04L689.4 143.34L689.6 143.68L690.5 144.83L690.8 145.26L691 145.71L692.2 147.68L692.4 148.2L693.6 150.37L693.8 150.93L695 153.13L695.2 153.68L696.4 155.79L696.6 156.31L697.8 158.25L698 158.71L699.2 160.45L699.4 160.85L700.6 162.36L700.8 162.7L702 163.99L702.2 164.28L703.7 165.6L703.9 165.84L705.1 166.69L705.6 167.08L707.3 168.05L709 168.82L711.5 169.66L714.6 170.32L718.5 170.82L724.7 171.18L734.8 171.36L758.6 171.4" stroke="#18ccd8" stroke-width="2.20"/>
<path d="M656.3 171.33L670.3 171.07L677.9 170.66L683.7 170.03L688 169.32L692.2 168.28L696.4 166.86L700.6 165.04L707.6 161.61L710.1 160.56L712.3 159.85L714.6 159.44L716.8 159.37L719.1 159.69L721.3 160.36L723.6 161.3L727.8 163.46L730.3 164.78L733.1 166.14L735.9 167.31L738.7 168.28L742.6 169.31L747.1 170.11L752.7 170.7L758.6 171.04" stroke="#1859d8" stroke-width="2.20"/>
<path d="M656.3 171.32L671.4 171.08L680.7 170.64L687.4 170L692.7 169.2L697.8 168.12L703.7 166.48L710.4 164.46L713.7 163.66L716.8 163.2L718.5 163.09L721.6 163.18L724.7 163.61L727.8 164.31L738.7 167.54L744 168.82L749.3 169.74L755.5 170.44L758.6 170.68" stroke="#4a18d8" stroke-width="2.20"/>
<path d="M656.3 171.33L672 171.07L680.9 170.63L687.1 170.06L692.2 169.34L697.2 168.31L702 167.05L711.2 164.33L715.1 163.5L718.2 163.17L721.3 163.21L724.4 163.59L727.8 164.33L733.4 165.96L738.7 167.53L744 168.81L749.6 169.78L755.8 170.46L758.6 170.67" stroke="#bd18d8" stroke-width="2.20"/>
<path d="M656.3 171.33L672 171.07L680.9 170.65L687.7 170.02L693.6 169.12L699.2 167.87L706.5 165.77L711.5 164.33L715.1 163.57L718.2 163.24L721.6 163.28L725 163.73L729.2 164.73L738.4 167.46L744 168.81L749.6 169.78L755.8 170.46L758.6 170.67" stroke="#d81880" stroke-width="2.20"/>
</g>
<path d="M656.50 13.20 V171.50 H758.59" fill="none" stroke="#222" stroke-width="0.9"/>
<path d="M653.93 171.40 H656.50" stroke="#222" stroke-width="0.8"/>
<text x="651.14" y="175.10" font-size="8.40" text-anchor="end" textLength="4.66" lengthAdjust="spacingAndGlyphs">0</text>
<path d="M653.93 140.36 H656.50" stroke="#222" stroke-width="0.8"/>
<text x="651.14" y="144.06" font-size="8.40" text-anchor="end" textLength="23.32" lengthAdjust="spacingAndGlyphs">50000</text>
<path d="M653.93 109.32 H656.50" stroke="#222" stroke-width="0.8"/>
<text x="651.14" y="113.02" font-size="8.40" text-anchor="end" textLength="27.98" lengthAdjust="spacingAndGlyphs">100000</text>
<path d="M653.93 78.28 H656.50" stroke="#222" stroke-width="0.8"/>
<text x="651.14" y="81.98" font-size="8.40" text-anchor="end" textLength="27.98" lengthAdjust="spacingAndGlyphs">150000</text>
<path d="M653.93 47.24 H656.50" stroke="#222" stroke-width="0.8"/>
<text x="651.14" y="50.94" font-size="8.40" text-anchor="end" textLength="27.98" lengthAdjust="spacingAndGlyphs">200000</text>
<path d="M653.93 16.20 H656.50" stroke="#222" stroke-width="0.8"/>
<text x="651.14" y="19.90" font-size="8.40" text-anchor="end" textLength="27.98" lengthAdjust="spacingAndGlyphs">250000</text>
<path d="M656.28 171.50 V174.07" stroke="#222" stroke-width="0.8"/>
<text x="656.68" y="182.70" font-size="8.40" text-anchor="middle" textLength="4.66" lengthAdjust="spacingAndGlyphs">0</text>
<path d="M681.51 171.50 V174.07" stroke="#222" stroke-width="0.8"/>
<text x="681.91" y="182.70" font-size="8.40" text-anchor="middle" textLength="9.33" lengthAdjust="spacingAndGlyphs">90</text>
<path d="M706.73 171.50 V174.07" stroke="#222" stroke-width="0.8"/>
<text x="707.13" y="182.70" font-size="8.40" text-anchor="middle" textLength="13.99" lengthAdjust="spacingAndGlyphs">180</text>
<path d="M731.96 171.50 V174.07" stroke="#222" stroke-width="0.8"/>
<text x="732.36" y="182.70" font-size="8.40" text-anchor="middle" textLength="13.99" lengthAdjust="spacingAndGlyphs">270</text>
<path d="M757.19 171.50 V174.07" stroke="#222" stroke-width="0.8"/>
<text x="757.59" y="182.70" font-size="8.40" text-anchor="middle" textLength="13.99" lengthAdjust="spacingAndGlyphs">360</text>
<text x="683.88" y="8.85" font-size="9.5" font-weight="bold" style="stroke-width:0.3px" textLength="12.91" lengthAdjust="spacingAndGlyphs">VE</text>
<text x="710.38" y="8.85" font-size="9.5" font-weight="bold" style="stroke-width:0.3px" textLength="21.21" lengthAdjust="spacingAndGlyphs">50%</text>
<text x="703.59" y="9.55" font-size="9.2" font-weight="bold" style="stroke-width:0.3px" text-anchor="middle">=</text>
<text x="637.60" y="8.90" font-size="12.4" font-weight="bold" style="stroke-width:0.45px" textLength="8.06" lengthAdjust="spacingAndGlyphs">E</text>
<g clip-path="url(#c5)" fill="none" stroke-linejoin="round" stroke-linecap="butt">
<path d="M45.4 384.4L49.6 384.29L50.7 384.05L51.6 383.63L52.4 382.76L52.7 382.33L53 381.79L53.2 381.13L53.5 380.34L53.8 379.38L54.1 378.23L54.4 376.88L54.6 375.28L54.9 373.41L55.2 371.24L55.5 368.75L55.8 365.9L56.1 362.66L56.3 359.02L56.6 354.96L56.9 350.47L57.2 345.54L57.5 340.16L57.7 334.37L58 328.16L58.3 321.59L58.6 314.69L58.9 307.53L59.1 300.15L60 277.64L60.3 270.32L60.5 263.27L60.8 256.59L61.1 250.39L61.4 244.77L61.7 239.83L61.9 235.67L62.2 232.34L62.5 229.92L62.8 228.45L63.1 227.96L63.3 228.41L63.6 229.77L63.9 232L64.2 235.05L64.5 238.85L64.7 243.33L65 248.38L65.3 253.92L65.6 259.84L65.9 266.04L66.1 272.43L67 291.87L67.3 298.19L67.5 304.34L67.8 310.28L68.1 315.96L68.4 321.37L68.7 326.49L68.9 331.3L69.2 335.82L69.5 340.03L69.8 343.94L70.1 347.56L70.3 350.91L70.6 353.99L70.9 356.81L71.2 359.4L71.5 361.77L71.7 363.93L72 365.9L72.3 367.69L72.6 369.32L72.9 370.8L73.1 372.14L73.4 373.35L73.7 374.44L74.3 376.33L74.6 377.14L74.8 377.86L75.4 379.11L76 380.13L76.2 380.56L77.1 381.61L77.6 382.15L79 383.09L80.7 383.71L83 384.11L85.5 384.29L87.4 384.35L147.7 384.4" stroke="#000" stroke-width="1.10"/>
<path d="M45.4 384.4L50.2 384.28L51.6 383.95L52.7 383.27L53 382.99L53.8 381.77L54.1 381.19L54.4 380.51L54.6 379.7L54.9 378.76L55.2 377.67L55.5 376.41L55.8 374.96L56.1 373.31L56.3 371.43L56.6 369.32L56.9 366.97L57.2 364.34L57.5 361.45L57.7 358.27L58 354.81L58.3 351.08L58.6 347.06L58.9 342.79L59.1 338.27L59.4 333.53L59.7 328.6L60 323.51L60.3 318.31L60.5 313.04L61.1 302.52L61.4 297.39L61.7 292.42L61.9 287.68L62.2 283.24L62.5 279.14L62.8 275.46L63.1 272.25L63.3 269.55L63.6 267.4L63.9 265.85L64.2 264.9L64.5 264.59L64.7 264.83L65 265.56L65.3 266.76L65.6 268.42L65.9 270.5L66.1 272.98L66.4 275.81L66.7 278.96L67 282.37L67.3 286.01L67.5 289.82L68.1 297.81L68.7 306L68.9 310.09L69.5 318.09L69.8 321.96L70.1 325.71L70.3 329.34L70.6 332.82L70.9 336.16L71.2 339.35L71.5 342.38L71.7 345.25L72 347.97L72.3 350.53L72.6 352.94L72.9 355.21L73.1 357.33L73.4 359.32L73.7 361.18L74 362.91L74.3 364.52L74.6 366.02L74.8 367.42L75.4 369.92L76 372.06L76.2 373.02L76.8 374.72L77.4 376.18L77.6 376.82L78.5 378.48L78.8 378.95L79 379.38L79.9 380.48L80.4 381.08L81.8 382.21L83.5 383.07L85.2 383.59L87.7 384.02L91.9 384.29L94.5 384.35L147.7 384.4" stroke="#d82318" stroke-width="2.20"/>
<path d="M45.4 384.4L50.7 384.31L52.1 384.1L53 383.82L54.1 383.11L54.4 382.84L55.2 381.73L55.8 380.65L56.1 379.98L56.3 379.23L56.6 378.36L56.9 377.38L57.2 376.29L57.5 375.05L57.7 373.68L58 372.16L58.3 370.49L58.6 368.65L58.9 366.65L59.1 364.49L59.4 362.15L59.7 359.65L60 356.99L60.3 354.18L60.5 351.22L60.8 348.12L61.4 341.61L61.7 338.22L61.9 334.79L62.8 324.46L63.1 321.12L63.3 317.87L63.6 314.77L63.9 311.83L64.2 309.1L64.5 306.6L64.7 304.37L65 302.44L65.3 300.82L65.6 299.54L66.1 298.05L66.4 297.86L66.7 297.98L67 298.35L67.3 298.95L67.5 299.78L67.8 300.83L68.1 302.09L68.4 303.54L68.7 305.17L68.9 306.96L69.2 308.89L69.5 310.94L70.1 315.34L70.3 317.65L71.5 327.21L71.7 329.61L72.6 336.63L72.9 338.88L73.1 341.07L73.7 345.26L74.3 349.19L74.6 351.04L74.8 352.81L75.4 356.15L76 359.19L76.2 360.6L76.8 363.22L77.4 365.58L77.6 366.67L78.2 368.68L78.8 370.48L79 371.3L79.9 373.5L80.2 374.15L80.4 374.77L81.3 376.4L81.6 376.89L81.8 377.34L82.7 378.55L83 378.9L83.2 379.24L84.4 380.38L84.6 380.63L86.3 381.82L88 382.63L89.7 383.19L92.5 383.76L96.7 384.15L103.4 384.35L147.7 384.4" stroke="#d89718" stroke-width="2.20"/>
<path d="M45.4 384.4L51.8 384.28L53.2 384.06L54.4 383.68L55.5 382.95L56.1 382.38L57.2 380.68L57.5 380.11L57.7 379.47L58.3 377.95L58.9 376.1L59.1 375.04L59.4 373.89L60 371.28L60.3 369.83L60.5 368.27L61.1 364.88L61.7 361.13L61.9 359.14L62.5 354.96L63.1 350.62L63.3 348.43L64.2 341.92L64.5 339.84L64.7 337.84L65 335.94L65.3 334.14L65.6 332.49L65.9 330.98L66.1 329.63L66.4 328.47L66.7 327.5L67 326.73L67.5 325.85L67.8 325.73L68.1 325.8L68.4 325.98L68.7 326.28L69.5 327.86L69.8 328.59L70.1 329.43L70.3 330.35L70.9 332.42L71.5 334.75L71.7 335.99L72.9 341.27L73.1 342.64L74.6 349.41L74.8 350.72L75.7 354.51L76 355.72L76.2 356.89L77.1 360.22L77.4 361.26L77.6 362.26L78.5 365.06L78.8 365.93L79 366.76L79.9 369.06L80.2 369.77L80.4 370.44L81.3 372.3L81.6 372.87L81.8 373.41L83 375.34L83.2 375.77L84.4 377.3L84.6 377.64L85.8 378.84L86 379.11L87.7 380.47L89.1 381.33L90.8 382.12L92.8 382.79L95.6 383.42L99.2 383.88L105.1 384.22L112.1 384.35L147.7 384.4" stroke="#a6d818" stroke-width="2.20"/>
<path d="M45.4 384.4L52.1 384.3L53.8 384.05L54.9 383.67L56.1 382.97L57.2 381.77L57.5 381.36L57.7 380.91L58.3 379.84L58.9 378.53L59.1 377.78L59.7 376.07L60.3 374.08L60.5 372.98L61.1 370.58L61.7 367.92L61.9 366.51L62.8 362.03L63.1 360.49L63.3 358.93L64.2 354.33L64.5 352.86L64.7 351.44L65.3 348.82L65.6 347.65L65.9 346.58L66.1 345.63L66.4 344.81L66.7 344.12L67 343.58L67.5 342.95L67.8 342.87L68.4 343.02L68.7 343.21L69.5 344.19L70.1 345.18L70.3 345.75L71.2 347.78L71.5 348.54L71.7 349.33L72.9 352.72L73.1 353.6L74.6 358.04L74.8 358.91L76 362.27L76.2 363.07L77.4 366.07L77.6 366.77L78.8 369.37L79 369.97L80.2 372.15L80.4 372.65L81.6 374.47L81.8 374.88L83 376.37L83.2 376.7L84.4 377.92L84.6 378.19L86.3 379.61L88 380.71L89.4 381.43L91.6 382.3L94.2 382.98L97.5 383.56L102.6 384.02L110.4 384.29L147.7 384.4" stroke="#33d818" stroke-width="2.20"/>
<path d="M45.4 384.27L54.9 383.95L60.5 383.48L64.5 382.9L68.1 382.06L71.2 381.05L74 379.82L76.2 378.6L77.6 377.74L78.8 376.99L80.2 376L81 375.39L81.6 374.97L82.1 374.55L83 373.92L83.5 373.5L84.4 372.89L84.6 372.68L86.9 371.2L88.3 370.44L89.7 369.86L91.1 369.5L92.2 369.38L94.2 369.51L96.1 369.98L97.8 370.63L99.5 371.45L101.5 372.58L102.3 373.11L104.3 374.36L105.4 375.08L108.2 376.82L110.7 378.24L113.8 379.72L116.6 380.82L119.7 381.76L123.3 382.59L128.1 383.31L134.5 383.86L144.3 384.22L147.7 384.27" stroke="#18d870" stroke-width="2.20"/>
<path d="M45.4 384.4L77.1 384.29L83.2 383.96L93.6 382.94L98.7 382.71L116.3 382.53L147.7 382.39" stroke="#18ccd8" stroke-width="2.20"/>
<path d="M45.4 384.4L147.7 384.4" stroke="#1859d8" stroke-width="2.20"/>
<path d="M45.4 384.4L147.7 384.4" stroke="#4a18d8" stroke-width="2.20"/>
<path d="M45.4 384.4L147.7 384.4" stroke="#bd18d8" stroke-width="2.20"/>
<path d="M45.4 384.4L147.7 384.4" stroke="#d81880" stroke-width="2.20"/>
</g>
<path d="M45.50 226.20 V384.50 H147.71" fill="none" stroke="#222" stroke-width="0.9"/>
<path d="M42.93 384.40 H45.50" stroke="#222" stroke-width="0.8"/>
<text x="40.26" y="388.10" font-size="8.40" text-anchor="end" textLength="4.66" lengthAdjust="spacingAndGlyphs">0</text>
<path d="M42.93 353.36 H45.50" stroke="#222" stroke-width="0.8"/>
<text x="40.26" y="357.06" font-size="8.40" text-anchor="end" textLength="23.32" lengthAdjust="spacingAndGlyphs">50000</text>
<path d="M42.93 322.32 H45.50" stroke="#222" stroke-width="0.8"/>
<text x="40.26" y="326.02" font-size="8.40" text-anchor="end" textLength="27.98" lengthAdjust="spacingAndGlyphs">100000</text>
<path d="M42.93 291.28 H45.50" stroke="#222" stroke-width="0.8"/>
<text x="40.26" y="294.98" font-size="8.40" text-anchor="end" textLength="27.98" lengthAdjust="spacingAndGlyphs">150000</text>
<path d="M42.93 260.24 H45.50" stroke="#222" stroke-width="0.8"/>
<text x="40.26" y="263.94" font-size="8.40" text-anchor="end" textLength="27.98" lengthAdjust="spacingAndGlyphs">200000</text>
<path d="M42.93 229.20 H45.50" stroke="#222" stroke-width="0.8"/>
<text x="40.26" y="232.90" font-size="8.40" text-anchor="end" textLength="27.98" lengthAdjust="spacingAndGlyphs">250000</text>
<path d="M45.40 384.50 V387.07" stroke="#222" stroke-width="0.8"/>
<text x="45.80" y="395.70" font-size="8.40" text-anchor="middle" textLength="4.66" lengthAdjust="spacingAndGlyphs">0</text>
<path d="M70.63 384.50 V387.07" stroke="#222" stroke-width="0.8"/>
<text x="71.03" y="395.70" font-size="8.40" text-anchor="middle" textLength="9.33" lengthAdjust="spacingAndGlyphs">90</text>
<path d="M95.85 384.50 V387.07" stroke="#222" stroke-width="0.8"/>
<text x="96.25" y="395.70" font-size="8.40" text-anchor="middle" textLength="13.99" lengthAdjust="spacingAndGlyphs">180</text>
<path d="M121.08 384.50 V387.07" stroke="#222" stroke-width="0.8"/>
<text x="121.48" y="395.70" font-size="8.40" text-anchor="middle" textLength="13.99" lengthAdjust="spacingAndGlyphs">270</text>
<path d="M146.31 384.50 V387.07" stroke="#222" stroke-width="0.8"/>
<text x="146.71" y="395.70" font-size="8.40" text-anchor="middle" textLength="13.99" lengthAdjust="spacingAndGlyphs">360</text>
<text x="73.00" y="221.80" font-size="9.5" font-weight="bold" style="stroke-width:0.3px" textLength="12.91" lengthAdjust="spacingAndGlyphs">VE</text>
<text x="99.50" y="221.80" font-size="9.5" font-weight="bold" style="stroke-width:0.3px" textLength="21.21" lengthAdjust="spacingAndGlyphs">60%</text>
<text x="92.71" y="222.50" font-size="9.2" font-weight="bold" style="stroke-width:0.3px" text-anchor="middle">=</text>
<text x="30.40" y="220.60" font-size="12.4" font-weight="bold" style="stroke-width:0.45px" textLength="8.06" lengthAdjust="spacingAndGlyphs">F</text>
<text transform="translate(7.5 305.30) rotate(-90)" x="0" y="0" font-size="9.9" text-anchor="middle" textLength="105.04" lengthAdjust="spacingAndGlyphs">Symptomatic infections</text>
<text x="96.25" y="406.70" font-size="9.5" text-anchor="middle" textLength="21.66" lengthAdjust="spacingAndGlyphs">Days</text>
<g clip-path="url(#c6)" fill="none" stroke-linejoin="round" stroke-linecap="butt">
<path d="M198.1 384.4L202.3 384.29L203.4 384.05L204.3 383.63L204.6 383.4L205.4 382.33L205.7 381.79L206 381.13L206.2 380.34L206.5 379.38L206.8 378.23L207.1 376.88L207.4 375.28L207.7 373.41L207.9 371.24L208.2 368.75L208.5 365.9L208.8 362.66L209.1 359.02L209.3 354.96L209.6 350.47L209.9 345.54L210.2 340.16L210.5 334.37L210.7 328.16L211 321.59L211.3 314.69L211.6 307.53L211.9 300.15L212.1 292.66L212.7 277.64L213 270.32L213.3 263.27L213.5 256.59L213.8 250.39L214.1 244.77L214.4 239.83L214.7 235.67L214.9 232.34L215.2 229.92L215.5 228.45L215.8 227.96L216.1 228.41L216.3 229.77L216.6 232L216.9 235.05L217.2 238.85L217.5 243.33L217.7 248.38L218 253.92L218.3 259.84L218.6 266.04L218.9 272.43L219.1 278.92L219.7 291.87L220 298.19L220.3 304.34L220.5 310.28L220.8 315.96L221.1 321.37L221.4 326.49L221.7 331.3L221.9 335.82L222.2 340.03L222.5 343.94L222.8 347.56L223.1 350.91L223.3 353.99L223.6 356.81L223.9 359.4L224.2 361.77L224.5 363.93L224.7 365.9L225 367.69L225.3 369.32L225.6 370.8L225.9 372.14L226.2 373.35L226.4 374.44L227 376.33L227.6 377.86L227.8 378.52L228.4 379.65L229 380.56L229.2 380.95L230.1 381.9L230.9 382.59L232.3 383.34L234 383.85L236.8 384.21L240.2 384.35L300.4 384.4" stroke="#000" stroke-width="1.10"/>
<path d="M198.1 384.4L202.9 384.3L204.3 384.04L205.4 383.5L206 383.02L206.8 381.87L207.4 380.7L207.7 379.96L207.9 379.1L208.2 378.1L208.5 376.95L208.8 375.64L209.1 374.15L209.3 372.46L209.6 370.57L209.9 368.46L210.2 366.11L210.5 363.53L210.7 360.7L211 357.61L211.3 354.28L211.6 350.7L211.9 346.89L212.1 342.84L212.4 338.6L212.7 334.17L213 329.58L213.3 324.88L213.5 320.09L214.4 305.69L214.7 301.04L214.9 296.56L215.2 292.29L215.5 288.3L215.8 284.64L216.1 281.35L216.3 278.48L216.6 276.07L216.9 274.17L217.2 272.78L217.5 271.94L217.7 271.66L218 271.87L218.3 272.5L218.6 273.53L218.9 274.96L219.1 276.75L219.4 278.89L219.7 281.34L220 284.06L220.3 287.04L220.5 290.21L220.8 293.56L221.4 300.61L221.7 304.25L221.9 307.92L222.8 318.83L223.1 322.36L223.3 325.81L223.6 329.15L223.9 332.39L224.2 335.51L224.5 338.51L224.7 341.37L225 344.1L225.3 346.7L225.6 349.17L225.9 351.5L226.2 353.71L226.4 355.79L226.7 357.75L227 359.59L227.6 362.93L227.8 364.44L228.1 365.86L228.7 368.42L229 369.57L229.2 370.64L229.8 372.57L230.4 374.24L230.6 374.98L231.2 376.32L231.8 377.47L232 377.98L232.9 379.31L233.2 379.69L233.4 380.04L234.8 381.44L236.5 382.55L237.9 383.15L239.9 383.68L243.2 384.12L249.1 384.35L300.4 384.4" stroke="#d82318" stroke-width="2.20"/>
<path d="M198.1 384.4L204 384.28L205.7 383.96L206.8 383.42L207.7 382.69L208.5 381.54L209.1 380.46L209.3 379.8L209.9 378.21L210.2 377.27L210.5 376.21L210.7 375.04L211 373.75L211.3 372.33L211.6 370.77L211.9 369.08L212.1 367.25L212.4 365.28L212.7 363.18L213 360.94L213.3 358.57L213.5 356.08L213.8 353.49L214.4 348.02L214.7 345.18L214.9 342.29L215.8 333.58L216.1 330.74L216.3 327.98L216.6 325.33L216.9 322.81L217.2 320.45L217.5 318.27L217.7 316.31L218 314.58L218.3 313.11L218.6 311.91L219.1 310.38L219.4 310.07L219.7 310.05L220 310.24L220.3 310.61L220.8 311.88L221.1 312.77L221.4 313.82L221.7 315.02L221.9 316.34L222.2 317.79L222.8 321L223.1 322.73L223.3 324.52L224.2 330.18L224.5 332.11L224.7 334.05L225.9 341.67L226.2 343.51L226.4 345.31L227.3 350.43L227.6 352.03L227.8 353.58L228.4 356.52L229 359.24L229.2 360.51L229.8 362.9L230.4 365.08L230.6 366.09L231.2 367.98L231.8 369.68L232 370.47L232.9 372.61L233.2 373.25L233.4 373.86L234.3 375.5L234.6 375.99L234.8 376.45L236 378.07L236.2 378.42L237.6 379.9L239.3 381.21L240.7 382.01L242.4 382.71L244.9 383.39L248 383.86L253.1 384.21L259.2 384.35L300.4 384.4" stroke="#d89718" stroke-width="2.20"/>
<path d="M198.1 384.4L204.6 384.29L206.2 384.03L207.4 383.62L208.2 383.08L209.1 382.24L209.3 381.88L209.9 381.01L210.5 379.9L210.7 379.26L211.3 377.75L211.9 375.93L212.1 374.91L212.7 372.61L213.3 369.98L213.5 368.55L214.1 365.49L214.7 362.19L214.9 360.48L216.1 353.46L216.3 351.73L216.9 348.43L217.2 346.87L217.5 345.41L217.7 344.06L218 342.82L218.3 341.72L218.6 340.77L218.9 339.97L219.1 339.35L219.4 338.89L219.7 338.61L220 338.52L220.3 338.57L220.8 338.93L221.4 339.64L221.7 340.11L221.9 340.66L222.5 341.98L223.1 343.53L223.3 344.39L224.2 347.18L224.5 348.16L224.7 349.17L226.2 354.31L226.4 355.33L227.6 359.28L227.8 360.22L228.7 362.92L229 363.77L229.2 364.6L230.1 366.93L230.4 367.65L230.6 368.35L231.5 370.31L231.8 370.91L232 371.49L233.2 373.59L233.4 374.06L234.6 375.77L234.8 376.15L236 377.52L236.2 377.83L237.4 378.93L237.6 379.18L239.3 380.44L241 381.39L242.7 382.12L244.9 382.83L248.3 383.5L252.5 383.95L258.1 384.22L265.4 384.35L300.4 384.4" stroke="#a6d818" stroke-width="2.20"/>
<path d="M198.1 384.4L206.8 384.3L209.3 384.02L210.7 383.66L211.9 383.2L213.3 382.3L214.7 380.94L214.9 380.6L216.1 379.01L216.3 378.55L217.5 376.46L217.7 375.88L218.9 373.36L219.1 372.69L220.3 369.9L220.5 369.19L221.7 366.41L221.9 365.74L223.1 363.3L223.3 362.77L224.2 361.4L224.7 360.71L225.3 360.22L225.9 359.94L226.7 359.91L227.6 360.12L229 360.95L230.4 362.28L230.6 362.59L231.8 363.98L232 364.35L233.2 365.92L233.4 366.33L234.6 367.97L234.8 368.38L236 370.01L236.2 370.41L237.4 371.96L237.6 372.34L238.8 373.76L239 374.1L240.2 375.38L240.4 375.68L241.6 376.81L241.8 377.07L243.5 378.49L245.2 379.67L246.9 380.62L248.6 381.4L251.1 382.28L254.2 383.03L258.1 383.61L263.4 384.03L271.8 384.29L300.4 384.4" stroke="#33d818" stroke-width="2.20"/>
<path d="M198.1 384.4L221.7 384.28L230.4 383.96L244.4 383.01L255 382.71L300.4 382.46" stroke="#18d870" stroke-width="2.20"/>
<path d="M198.1 384.4L300.4 384.4" stroke="#18ccd8" stroke-width="2.20"/>
<path d="M198.1 384.4L300.4 384.4" stroke="#1859d8" stroke-width="2.20"/>
<path d="M198.1 384.4L300.4 384.4" stroke="#4a18d8" stroke-width="2.20"/>
<path d="M198.1 384.4L300.4 384.4" stroke="#bd18d8" stroke-width="2.20"/>
<path d="M198.1 384.4L300.4 384.4" stroke="#d81880" stroke-width="2.20"/>
</g>
<path d="M198.50 226.20 V384.50 H300.43" fill="none" stroke="#222" stroke-width="0.9"/>
<path d="M195.93 384.40 H198.50" stroke="#222" stroke-width="0.8"/>
<text x="192.98" y="388.10" font-size="8.40" text-anchor="end" textLength="4.66" lengthAdjust="spacingAndGlyphs">0</text>
<path d="M195.93 353.36 H198.50" stroke="#222" stroke-width="0.8"/>
<text x="192.98" y="357.06" font-size="8.40" text-anchor="end" textLength="23.32" lengthAdjust="spacingAndGlyphs">50000</text>
<path d="M195.93 322.32 H198.50" stroke="#222" stroke-width="0.8"/>
<text x="192.98" y="326.02" font-size="8.40" text-anchor="end" textLength="27.98" lengthAdjust="spacingAndGlyphs">100000</text>
<path d="M195.93 291.28 H198.50" stroke="#222" stroke-width="0.8"/>
<text x="192.98" y="294.98" font-size="8.40" text-anchor="end" textLength="27.98" lengthAdjust="spacingAndGlyphs">150000</text>
<path d="M195.93 260.24 H198.50" stroke="#222" stroke-width="0.8"/>
<text x="192.98" y="263.94" font-size="8.40" text-anchor="end" textLength="27.98" lengthAdjust="spacingAndGlyphs">200000</text>
<path d="M195.93 229.20 H198.50" stroke="#222" stroke-width="0.8"/>
<text x="192.98" y="232.90" font-size="8.40" text-anchor="end" textLength="27.98" lengthAdjust="spacingAndGlyphs">250000</text>
<path d="M198.12 384.50 V387.07" stroke="#222" stroke-width="0.8"/>
<text x="198.52" y="395.70" font-size="8.40" text-anchor="middle" textLength="4.66" lengthAdjust="spacingAndGlyphs">0</text>
<path d="M223.35 384.50 V387.07" stroke="#222" stroke-width="0.8"/>
<text x="223.75" y="395.70" font-size="8.40" text-anchor="middle" textLength="9.33" lengthAdjust="spacingAndGlyphs">90</text>
<path d="M248.57 384.50 V387.07" stroke="#222" stroke-width="0.8"/>
<text x="248.97" y="395.70" font-size="8.40" text-anchor="middle" textLength="13.99" lengthAdjust="spacingAndGlyphs">180</text>
<path d="M273.80 384.50 V387.07" stroke="#222" stroke-width="0.8"/>
<text x="274.20" y="395.70" font-size="8.40" text-anchor="middle" textLength="13.99" lengthAdjust="spacingAndGlyphs">270</text>
<path d="M299.03 384.50 V387.07" stroke="#222" stroke-width="0.8"/>
<text x="299.43" y="395.70" font-size="8.40" text-anchor="middle" textLength="13.99" lengthAdjust="spacingAndGlyphs">360</text>
<text x="225.72" y="221.80" font-size="9.5" font-weight="bold" style="stroke-width:0.3px" textLength="12.91" lengthAdjust="spacingAndGlyphs">VE</text>
<text x="252.22" y="221.80" font-size="9.5" font-weight="bold" style="stroke-width:0.3px" textLength="21.21" lengthAdjust="spacingAndGlyphs">70%</text>
<text x="245.43" y="222.50" font-size="9.2" font-weight="bold" style="stroke-width:0.3px" text-anchor="middle">=</text>
<text x="184.10" y="220.60" font-size="12.4" font-weight="bold" style="stroke-width:0.45px" textLength="9.69" lengthAdjust="spacingAndGlyphs">G</text>
<text x="248.97" y="406.70" font-size="9.5" text-anchor="middle" textLength="21.66" lengthAdjust="spacingAndGlyphs">Days</text>
<g clip-path="url(#c7)" fill="none" stroke-linejoin="round" stroke-linecap="butt">
<path d="M350.8 384.4L355 384.29L356.2 384.05L357 383.63L357.6 383.12L358.4 381.79L358.7 381.13L359 380.34L359.2 379.38L359.5 378.23L359.8 376.88L360.1 375.28L360.4 373.41L360.7 371.24L360.9 368.75L361.2 365.9L361.5 362.66L361.8 359.02L362.1 354.96L362.3 350.47L362.6 345.54L362.9 340.16L363.2 334.37L363.5 328.16L363.7 321.59L364 314.69L364.3 307.53L364.6 300.15L364.9 292.66L365.1 285.12L365.4 277.64L365.7 270.32L366 263.27L366.3 256.59L366.5 250.39L366.8 244.77L367.1 239.83L367.4 235.67L367.7 232.34L367.9 229.92L368.2 228.45L368.5 227.96L368.8 228.41L369.1 229.77L369.3 232L369.6 235.05L369.9 238.85L370.2 243.33L370.5 248.38L370.7 253.92L371 259.84L371.3 266.04L371.6 272.43L371.9 278.92L372.1 285.42L372.4 291.87L372.7 298.19L373 304.34L373.3 310.28L373.5 315.96L373.8 321.37L374.1 326.49L374.4 331.3L374.7 335.82L374.9 340.03L375.2 343.94L375.5 347.56L375.8 350.91L376.1 353.99L376.3 356.81L376.6 359.4L376.9 361.77L377.2 363.93L377.5 365.9L377.7 367.69L378 369.32L378.3 370.8L378.6 372.14L378.9 373.35L379.2 374.44L379.4 375.43L380 377.14L380.6 378.52L380.8 379.11L381.4 380.13L382 380.95L382.2 381.3L383.1 382.15L383.6 382.59L385.3 383.45L387 383.9L389.5 384.21L392.9 384.35L453.1 384.4" stroke="#000" stroke-width="1.10"/>
<path d="M350.8 384.4L355.9 384.28L357.3 383.99L358.1 383.59L359 382.88L359.8 381.65L360.1 381.09L360.7 379.65L360.9 378.76L361.2 377.74L361.5 376.56L361.8 375.22L362.1 373.71L362.3 372.01L362.6 370.11L362.9 368L363.2 365.67L363.5 363.12L363.7 360.33L364 357.32L364.3 354.07L364.6 350.61L364.9 346.93L365.1 343.06L365.4 339L365.7 334.8L366.3 326.06L366.5 321.59L367.1 312.67L367.4 308.31L367.7 304.07L367.9 300.02L368.2 296.2L368.5 292.66L368.8 289.45L369.1 286.6L369.3 284.17L369.6 282.18L369.9 280.66L370.2 279.63L370.5 279.12L370.7 279.1L371 279.47L371.3 280.21L371.6 281.3L371.9 282.73L372.1 284.48L372.4 286.52L372.7 288.83L373 291.38L373.3 294.14L373.5 297.06L373.8 300.13L374.4 306.56L374.7 309.86L374.9 313.19L375.8 323.07L376.1 326.26L376.3 329.39L376.9 335.36L377.2 338.2L377.5 340.92L377.7 343.53L378 346.03L378.3 348.41L378.6 350.67L378.9 352.82L379.2 354.85L379.4 356.77L379.7 358.59L380.3 361.9L380.6 363.41L380.8 364.83L381.4 367.41L382 369.67L382.2 370.69L382.8 372.53L383.4 374.14L383.6 374.86L384.5 376.74L384.8 377.28L385 377.79L385.9 379.1L386.2 379.48L386.4 379.83L387.8 381.25L389.5 382.38L391.2 383.11L393.4 383.69L396.8 384.11L403.3 384.35L453.1 384.4" stroke="#d82318" stroke-width="2.20"/>
<path d="M350.8 384.4L356.7 384.3L358.4 384.02L359.2 383.71L360.1 383.19L360.7 382.67L361.8 381.05L362.1 380.49L362.3 379.86L362.9 378.34L363.5 376.45L363.7 375.35L364 374.14L364.3 372.81L364.6 371.38L364.9 369.82L365.1 368.14L365.4 366.35L365.7 364.44L366 362.43L366.3 360.31L366.5 358.09L367.1 353.42L367.7 348.53L367.9 346.04L368.8 338.65L369.1 336.28L369.3 334L369.6 331.83L369.9 329.8L370.2 327.93L370.5 326.23L370.7 324.73L371 323.45L371.3 322.4L371.6 321.6L371.9 321.04L372.1 320.75L372.4 320.72L372.7 320.85L373 321.13L373.3 321.56L373.5 322.12L373.8 322.82L374.1 323.64L374.7 325.64L374.9 326.79L375.5 329.35L376.1 332.19L376.3 333.68L377.5 339.93L377.7 341.51L378.9 347.74L379.2 349.24L379.4 350.7L380.3 354.89L380.6 356.21L380.8 357.48L381.7 361.05L382 362.15L382.2 363.21L383.1 366.13L383.4 367.03L383.6 367.88L384.5 370.22L384.8 370.93L385 371.61L385.9 373.45L386.2 374.01L386.4 374.54L387.6 376.41L387.8 376.82L389 378.27L389.2 378.58L390.6 379.94L392.3 381.17L393.7 381.92L395.4 382.6L397.4 383.17L400.7 383.75L405.2 384.13L413.6 384.35L453.1 384.4" stroke="#d89718" stroke-width="2.20"/>
<path d="M350.8 384.4L357.6 384.3L359.2 384.07L360.7 383.58L361.8 382.81L362.1 382.55L363.2 381.09L363.5 380.61L363.7 380.08L364.3 378.85L364.9 377.38L365.1 376.56L365.7 374.71L366.3 372.61L366.5 371.47L367.1 369.04L367.7 366.43L367.9 365.08L369.1 359.58L369.3 358.23L369.9 355.65L370.5 353.31L370.7 352.25L371 351.29L371.3 350.44L371.6 349.7L372.1 348.6L372.4 348.24L372.7 348.03L373 347.96L373.5 348.09L374.1 348.47L374.7 349.1L374.9 349.5L375.8 350.99L376.1 351.58L376.3 352.2L377.2 354.24L377.5 354.97L377.7 355.71L379.2 359.54L379.4 360.3L380.6 363.3L380.8 364.02L382 366.77L382.2 367.41L383.4 369.82L383.6 370.38L384.8 372.43L385 372.9L386.2 374.62L386.4 375.01L387.6 376.44L387.8 376.76L389 377.93L389.2 378.2L390.4 379.15L390.9 379.58L392.6 380.65L394 381.37L395.7 382.05L398.5 382.86L402.1 383.51L407.2 383.99L415.9 384.29L453.1 384.4" stroke="#a6d818" stroke-width="2.20"/>
<path d="M350.8 384.12L360.9 383.73L368.2 383.17L374.4 382.4L380.6 381.27L389 379.24L394 378.03L397.4 377.4L400.7 377.02L404.1 376.97L407.5 377.23L411.7 377.92L420.4 379.99L426.5 381.39L432.7 382.46L439.4 383.25L448.1 383.84L453.1 384.03" stroke="#33d818" stroke-width="2.20"/>
<path d="M350.8 384.4L453.1 384.4" stroke="#18d870" stroke-width="2.20"/>
<path d="M350.8 384.4L453.1 384.4" stroke="#18ccd8" stroke-width="2.20"/>
<path d="M350.8 384.4L453.1 384.4" stroke="#1859d8" stroke-width="2.20"/>
<path d="M350.8 384.4L453.1 384.4" stroke="#4a18d8" stroke-width="2.20"/>
<path d="M350.8 384.4L453.1 384.4" stroke="#bd18d8" stroke-width="2.20"/>
<path d="M350.8 384.4L453.1 384.4" stroke="#d81880" stroke-width="2.20"/>
</g>
<path d="M350.50 226.20 V384.50 H453.15" fill="none" stroke="#222" stroke-width="0.9"/>
<path d="M347.93 384.40 H350.50" stroke="#222" stroke-width="0.8"/>
<text x="345.70" y="388.10" font-size="8.40" text-anchor="end" textLength="4.66" lengthAdjust="spacingAndGlyphs">0</text>
<path d="M347.93 353.36 H350.50" stroke="#222" stroke-width="0.8"/>
<text x="345.70" y="357.06" font-size="8.40" text-anchor="end" textLength="23.32" lengthAdjust="spacingAndGlyphs">50000</text>
<path d="M347.93 322.32 H350.50" stroke="#222" stroke-width="0.8"/>
<text x="345.70" y="326.02" font-size="8.40" text-anchor="end" textLength="27.98" lengthAdjust="spacingAndGlyphs">100000</text>
<path d="M347.93 291.28 H350.50" stroke="#222" stroke-width="0.8"/>
<text x="345.70" y="294.98" font-size="8.40" text-anchor="end" textLength="27.98" lengthAdjust="spacingAndGlyphs">150000</text>
<path d="M347.93 260.24 H350.50" stroke="#222" stroke-width="0.8"/>
<text x="345.70" y="263.94" font-size="8.40" text-anchor="end" textLength="27.98" lengthAdjust="spacingAndGlyphs">200000</text>
<path d="M347.93 229.20 H350.50" stroke="#222" stroke-width="0.8"/>
<text x="345.70" y="232.90" font-size="8.40" text-anchor="end" textLength="27.98" lengthAdjust="spacingAndGlyphs">250000</text>
<path d="M350.84 384.50 V387.07" stroke="#222" stroke-width="0.8"/>
<text x="351.24" y="395.70" font-size="8.40" text-anchor="middle" textLength="4.66" lengthAdjust="spacingAndGlyphs">0</text>
<path d="M376.07 384.50 V387.07" stroke="#222" stroke-width="0.8"/>
<text x="376.47" y="395.70" font-size="8.40" text-anchor="middle" textLength="9.33" lengthAdjust="spacingAndGlyphs">90</text>
<path d="M401.29 384.50 V387.07" stroke="#222" stroke-width="0.8"/>
<text x="401.69" y="395.70" font-size="8.40" text-anchor="middle" textLength="13.99" lengthAdjust="spacingAndGlyphs">180</text>
<path d="M426.52 384.50 V387.07" stroke="#222" stroke-width="0.8"/>
<text x="426.92" y="395.70" font-size="8.40" text-anchor="middle" textLength="13.99" lengthAdjust="spacingAndGlyphs">270</text>
<path d="M451.75 384.50 V387.07" stroke="#222" stroke-width="0.8"/>
<text x="452.15" y="395.70" font-size="8.40" text-anchor="middle" textLength="13.99" lengthAdjust="spacingAndGlyphs">360</text>
<text x="378.44" y="221.80" font-size="9.5" font-weight="bold" style="stroke-width:0.3px" textLength="12.91" lengthAdjust="spacingAndGlyphs">VE</text>
<text x="404.94" y="221.80" font-size="9.5" font-weight="bold" style="stroke-width:0.3px" textLength="21.21" lengthAdjust="spacingAndGlyphs">80%</text>
<text x="398.15" y="222.50" font-size="9.2" font-weight="bold" style="stroke-width:0.3px" text-anchor="middle">=</text>
<text x="330.00" y="220.60" font-size="12.4" font-weight="bold" style="stroke-width:0.45px" textLength="9.88" lengthAdjust="spacingAndGlyphs">H</text>
<text x="401.69" y="406.70" font-size="9.5" text-anchor="middle" textLength="21.66" lengthAdjust="spacingAndGlyphs">Days</text>
<g clip-path="url(#c8)" fill="none" stroke-linejoin="round" stroke-linecap="butt">
<path d="M503.6 384.4L507.8 384.29L508.9 384.05L509.7 383.63L510.3 383.12L510.6 382.76L511.4 381.13L511.7 380.34L512 379.38L512.2 378.23L512.5 376.88L512.8 375.28L513.1 373.41L513.4 371.24L513.7 368.75L513.9 365.9L514.2 362.66L514.5 359.02L514.8 354.96L515.1 350.47L515.3 345.54L515.6 340.16L515.9 334.37L516.2 328.16L516.5 321.59L516.7 314.69L517 307.53L517.3 300.15L517.9 285.12L518.1 277.64L518.4 270.32L518.7 263.27L519 256.59L519.3 250.39L519.5 244.77L519.8 239.83L520.1 235.67L520.4 232.34L520.7 229.92L520.9 228.45L521.2 227.96L521.5 228.41L521.8 229.77L522.1 232L522.3 235.05L522.6 238.85L522.9 243.33L523.2 248.38L523.5 253.92L523.7 259.84L524 266.04L524.6 278.92L524.9 285.42L525.1 291.87L525.4 298.19L525.7 304.34L526 310.28L526.3 315.96L526.5 321.37L526.8 326.49L527.1 331.3L527.4 335.82L527.7 340.03L527.9 343.94L528.2 347.56L528.5 350.91L528.8 353.99L529.1 356.81L529.3 359.4L529.6 361.77L529.9 363.93L530.2 365.9L530.5 367.69L530.7 369.32L531 370.8L531.3 372.14L531.6 373.35L531.9 374.44L532.2 375.43L532.4 376.33L533 377.86L533.6 379.11L533.8 379.65L534.7 380.95L535.2 381.61L536.1 382.38L536.9 382.94L538.3 383.55L540 383.95L542.8 384.25L545.6 384.35L605.9 384.4" stroke="#000" stroke-width="1.10"/>
<path d="M503.6 384.4L508.6 384.3L510 384.05L510.8 383.72L511.7 383.11L512 382.83L512.8 381.61L513.4 380.41L513.7 379.65L513.9 378.79L514.2 377.8L514.5 376.67L514.8 375.39L515.1 373.95L515.3 372.34L515.6 370.54L515.9 368.56L516.2 366.37L516.5 363.98L516.7 361.38L517 358.58L517.3 355.57L517.6 352.36L517.9 348.97L518.1 345.41L518.4 341.69L518.7 337.84L519.3 329.85L519.5 325.78L520.1 317.65L520.4 313.69L520.7 309.84L520.9 306.17L521.2 302.69L521.5 299.48L521.8 296.55L522.1 293.96L522.3 291.73L522.6 289.9L522.9 288.49L523.2 287.53L523.5 287.02L523.7 286.96L524 287.25L524.3 287.85L524.6 288.76L524.9 289.97L525.1 291.45L525.4 293.19L525.7 295.17L526 297.36L526.3 299.73L526.5 302.27L527.1 307.71L527.7 313.48L527.9 316.42L528.8 325.24L529.1 328.12L529.3 330.94L529.9 336.38L530.5 341.48L530.7 343.9L531 346.22L531.3 348.44L531.9 352.58L532.2 354.51L532.4 356.34L533 359.71L533.6 362.72L533.8 364.1L534.4 366.62L535 368.86L535.2 369.87L535.8 371.72L536.4 373.34L536.6 374.07L537.5 376L537.8 376.56L538 377.09L538.9 378.47L539.2 378.87L539.4 379.24L540.8 380.76L542.2 381.84L543.9 382.72L545.9 383.38L548.7 383.89L553.2 384.24L557.7 384.35L605.9 384.4" stroke="#d82318" stroke-width="2.20"/>
<path d="M503.6 384.4L509.7 384.29L511.4 384.01L512.2 383.69L513.1 383.17L513.7 382.66L514.8 381.09L515.1 380.55L515.3 379.94L515.9 378.5L516.2 377.66L516.5 376.72L516.7 375.7L517 374.58L517.6 372.04L517.9 370.61L518.1 369.09L518.7 365.77L519.3 362.09L519.5 360.14L520.4 353.98L520.7 351.87L520.9 349.76L521.5 345.6L522.1 341.66L522.3 339.83L522.6 338.1L522.9 336.51L523.2 335.08L523.5 333.81L523.7 332.72L524 331.83L524.3 331.15L524.6 330.68L524.9 330.43L525.1 330.4L525.4 330.51L525.7 330.73L526 331.06L526.3 331.51L526.5 332.07L527.1 333.47L527.7 335.23L527.9 336.22L528.5 338.39L529.1 340.74L529.3 341.98L530.5 347.08L530.7 348.36L531.9 353.4L532.2 354.61L532.4 355.79L533.3 359.18L533.6 360.25L533.8 361.28L534.7 364.18L535 365.08L535.2 365.95L536.1 368.36L536.4 369.09L536.6 369.8L537.5 371.75L537.8 372.35L538 372.92L539.2 374.95L539.4 375.4L540.6 377.01L540.8 377.36L542 378.63L542.2 378.91L543.9 380.33L545.3 381.23L547 382.05L548.7 382.66L551.8 383.4L555.7 383.9L561.3 384.22L568 384.35L605.9 384.4" stroke="#d89718" stroke-width="2.20"/>
<path d="M503.6 384.4L510.8 384.29L512.5 384.04L513.7 383.67L514.8 383.02L515.1 382.79L516.2 381.57L516.5 381.17L516.7 380.73L517.6 379.14L517.9 378.51L518.1 377.84L519 375.52L519.3 374.65L519.5 373.74L520.4 370.77L520.7 369.72L520.9 368.65L522.1 364.33L522.3 363.28L522.9 361.27L523.5 359.47L523.7 358.66L524.3 357.28L525.1 355.9L525.4 355.65L525.7 355.51L526.3 355.5L527.1 355.89L527.7 356.36L529.1 358.21L529.3 358.68L530.5 360.74L530.7 361.29L532.2 364.17L532.4 364.75L533.6 367.03L533.8 367.58L535 369.69L535.2 370.19L536.4 372.06L536.6 372.5L537.8 374.13L538 374.5L539.2 375.88L539.4 376.2L540.6 377.36L540.8 377.63L542.5 379.03L544.2 380.15L545.6 380.9L547.3 381.64L549.8 382.46L553.2 383.19L557.4 383.73L563.3 384.11L575.3 384.35L605.9 384.4" stroke="#a6d818" stroke-width="2.20"/>
<path d="M503.6 384.4L605.9 384.4" stroke="#33d818" stroke-width="2.20"/>
<path d="M503.6 384.4L605.9 384.4" stroke="#18d870" stroke-width="2.20"/>
<path d="M503.6 384.4L605.9 384.4" stroke="#18ccd8" stroke-width="2.20"/>
<path d="M503.6 384.4L605.9 384.4" stroke="#1859d8" stroke-width="2.20"/>
<path d="M503.6 384.4L605.9 384.4" stroke="#4a18d8" stroke-width="2.20"/>
<path d="M503.6 384.4L605.9 384.4" stroke="#bd18d8" stroke-width="2.20"/>
<path d="M503.6 384.4L605.9 384.4" stroke="#d81880" stroke-width="2.20"/>
</g>
<path d="M503.50 226.20 V384.50 H605.87" fill="none" stroke="#222" stroke-width="0.9"/>
<path d="M500.93 384.40 H503.50" stroke="#222" stroke-width="0.8"/>
<text x="498.42" y="388.10" font-size="8.40" text-anchor="end" textLength="4.66" lengthAdjust="spacingAndGlyphs">0</text>
<path d="M500.93 353.36 H503.50" stroke="#222" stroke-width="0.8"/>
<text x="498.42" y="357.06" font-size="8.40" text-anchor="end" textLength="23.32" lengthAdjust="spacingAndGlyphs">50000</text>
<path d="M500.93 322.32 H503.50" stroke="#222" stroke-width="0.8"/>
<text x="498.42" y="326.02" font-size="8.40" text-anchor="end" textLength="27.98" lengthAdjust="spacingAndGlyphs">100000</text>
<path d="M500.93 291.28 H503.50" stroke="#222" stroke-width="0.8"/>
<text x="498.42" y="294.98" font-size="8.40" text-anchor="end" textLength="27.98" lengthAdjust="spacingAndGlyphs">150000</text>
<path d="M500.93 260.24 H503.50" stroke="#222" stroke-width="0.8"/>
<text x="498.42" y="263.94" font-size="8.40" text-anchor="end" textLength="27.98" lengthAdjust="spacingAndGlyphs">200000</text>
<path d="M500.93 229.20 H503.50" stroke="#222" stroke-width="0.8"/>
<text x="498.42" y="232.90" font-size="8.40" text-anchor="end" textLength="27.98" lengthAdjust="spacingAndGlyphs">250000</text>
<path d="M503.56 384.50 V387.07" stroke="#222" stroke-width="0.8"/>
<text x="503.96" y="395.70" font-size="8.40" text-anchor="middle" textLength="4.66" lengthAdjust="spacingAndGlyphs">0</text>
<path d="M528.79 384.50 V387.07" stroke="#222" stroke-width="0.8"/>
<text x="529.19" y="395.70" font-size="8.40" text-anchor="middle" textLength="9.33" lengthAdjust="spacingAndGlyphs">90</text>
<path d="M554.01 384.50 V387.07" stroke="#222" stroke-width="0.8"/>
<text x="554.41" y="395.70" font-size="8.40" text-anchor="middle" textLength="13.99" lengthAdjust="spacingAndGlyphs">180</text>
<path d="M579.24 384.50 V387.07" stroke="#222" stroke-width="0.8"/>
<text x="579.64" y="395.70" font-size="8.40" text-anchor="middle" textLength="13.99" lengthAdjust="spacingAndGlyphs">270</text>
<path d="M604.47 384.50 V387.07" stroke="#222" stroke-width="0.8"/>
<text x="604.87" y="395.70" font-size="8.40" text-anchor="middle" textLength="13.99" lengthAdjust="spacingAndGlyphs">360</text>
<text x="531.16" y="221.80" font-size="9.5" font-weight="bold" style="stroke-width:0.3px" textLength="12.91" lengthAdjust="spacingAndGlyphs">VE</text>
<text x="557.66" y="221.80" font-size="9.5" font-weight="bold" style="stroke-width:0.3px" textLength="21.21" lengthAdjust="spacingAndGlyphs">90%</text>
<text x="550.87" y="222.50" font-size="9.2" font-weight="bold" style="stroke-width:0.3px" text-anchor="middle">=</text>
<text x="483.60" y="220.60" font-size="12.4" font-weight="bold" style="stroke-width:0.45px" textLength="4.39" lengthAdjust="spacingAndGlyphs">I</text>
<text x="554.41" y="406.70" font-size="9.5" text-anchor="middle" textLength="21.66" lengthAdjust="spacingAndGlyphs">Days</text>
<g clip-path="url(#c9)" fill="none" stroke-linejoin="round" stroke-linecap="butt">
<path d="M656.3 384.4L660.5 384.29L661.9 383.94L662.4 383.63L663 383.12L663.6 382.33L663.8 381.79L664.1 381.13L664.4 380.34L664.7 379.38L665 378.23L665.2 376.88L665.5 375.28L665.8 373.41L666.1 371.24L666.4 368.75L666.7 365.9L666.9 362.66L667.2 359.02L667.5 354.96L667.8 350.47L668.1 345.54L668.3 340.16L668.6 334.37L668.9 328.16L669.2 321.59L669.5 314.69L669.7 307.53L670 300.15L670.9 277.64L671.1 270.32L671.4 263.27L671.7 256.59L672 250.39L672.3 244.77L672.5 239.83L672.8 235.67L673.1 232.34L673.4 229.92L673.7 228.45L673.9 227.96L674.2 228.41L674.5 229.77L674.8 232L675.1 235.05L675.3 238.85L675.6 243.33L675.9 248.38L676.2 253.92L676.5 259.84L676.7 266.04L677 272.43L677.9 291.87L678.1 298.19L678.4 304.34L678.7 310.28L679 315.96L679.3 321.37L679.5 326.49L679.8 331.3L680.1 335.82L680.4 340.03L680.7 343.94L680.9 347.56L681.2 350.91L681.5 353.99L681.8 356.81L682.1 359.4L682.3 361.77L682.6 363.93L682.9 365.9L683.2 367.69L683.5 369.32L683.7 370.8L684 372.14L684.3 373.35L684.9 375.43L685.2 376.33L685.4 377.14L686 378.52L686.6 379.65L686.8 380.13L687.7 381.3L688.2 381.9L689.6 382.94L691.3 383.63L693.3 384.04L696.4 384.29L698.3 384.35L758.6 384.4" stroke="#000" stroke-width="1.10"/>
<path d="M656.3 384.4L661.6 384.29L663 384.04L663.6 383.84L664.7 383.11L665 382.83L665.8 381.66L666.4 380.52L666.7 379.81L666.9 379L667.2 378.08L667.5 377.02L667.8 375.84L668.1 374.51L668.3 373.02L668.6 371.37L668.9 369.55L669.2 367.55L669.5 365.38L669.7 363.02L670 360.47L670.3 357.75L670.6 354.85L670.9 351.78L671.1 348.57L671.4 345.21L672 338.18L672.3 334.54L672.5 330.86L673.4 319.93L673.7 316.44L673.9 313.08L674.2 309.91L674.5 306.94L674.8 304.23L675.1 301.81L675.3 299.69L675.6 297.93L675.9 296.53L676.2 295.51L676.5 294.9L676.7 294.69L677 294.83L677.3 295.23L677.6 295.9L677.9 296.83L678.1 298L678.4 299.39L678.7 301L679 302.8L679.3 304.78L679.5 306.91L679.8 309.16L680.4 313.97L680.7 316.49L680.9 319.05L682.1 329.39L682.3 331.92L682.9 336.84L683.5 341.53L683.7 343.76L684.3 347.99L684.9 351.9L685.2 353.72L685.4 355.47L686 358.71L686.6 361.65L686.8 363L687.4 365.49L688 367.72L688.2 368.74L688.8 370.6L689.4 372.26L689.6 373.01L690.5 375.02L690.8 375.61L691 376.16L691.9 377.62L692.2 378.05L692.4 378.46L693.6 379.83L693.8 380.12L695.5 381.52L696.9 382.33L698.6 383.01L700.8 383.58L704.2 384.03L709.3 384.29L712.3 384.35L758.6 384.4" stroke="#d82318" stroke-width="2.20"/>
<path d="M656.3 384.4L662.4 384.31L664.1 384.08L665.2 383.72L666.1 383.23L666.7 382.76L667.8 381.33L668.1 380.84L668.3 380.3L668.9 379.01L669.5 377.44L669.7 376.53L670.3 374.48L670.9 372.1L671.1 370.79L671.7 367.93L672.3 364.79L672.5 363.14L673.7 356.17L673.9 354.41L674.8 349.31L675.1 347.72L675.3 346.22L675.6 344.82L675.9 343.54L676.2 342.39L676.5 341.38L676.7 340.52L677 339.84L677.3 339.32L677.6 338.99L677.9 338.84L678.4 338.97L679 339.45L679.3 339.83L679.5 340.28L680.1 341.43L680.7 342.84L680.9 343.63L681.8 346.29L682.1 347.25L682.3 348.23L683.5 352.31L683.7 353.35L685.2 358.4L685.4 359.36L686.6 363.01L686.8 363.86L687.7 366.27L688 367.02L688.2 367.75L689.1 369.78L689.4 370.41L689.6 371.01L690.8 373.19L691 373.69L692.2 375.46L692.4 375.86L693.6 377.29L693.8 377.61L695 378.75L695.5 379.25L696.9 380.31L698.6 381.31L700.3 382.06L702.8 382.86L705.9 383.48L710.1 383.94L715.7 384.22L723 384.35L758.6 384.4" stroke="#d89718" stroke-width="2.20"/>
<path d="M656.3 384.29L663.8 384.03L668.9 383.58L672.3 383.02L675.1 382.3L677.6 381.38L680.1 380.15L682.1 378.96L682.9 378.39L683.5 378L684 377.59L685.2 376.76L685.7 376.34L686.6 375.7L687.1 375.29L688.8 374.11L690.2 373.29L691.6 372.69L693 372.35L694.7 372.33L696.6 372.7L698 373.19L699.7 373.96L702 375.21L703.4 376.05L706.2 377.72L708.7 379.09L711.2 380.26L714 381.32L717.4 382.27L721.3 383.04L726.6 383.67L734.2 384.1L742.3 384.29L758.6 384.38" stroke="#a6d818" stroke-width="2.20"/>
<path d="M656.3 384.4L758.6 384.4" stroke="#33d818" stroke-width="2.20"/>
<path d="M656.3 384.4L758.6 384.4" stroke="#18d870" stroke-width="2.20"/>
<path d="M656.3 384.4L758.6 384.4" stroke="#18ccd8" stroke-width="2.20"/>
<path d="M656.3 384.4L758.6 384.4" stroke="#1859d8" stroke-width="2.20"/>
<path d="M656.3 384.4L758.6 384.4" stroke="#4a18d8" stroke-width="2.20"/>
<path d="M656.3 384.4L758.6 384.4" stroke="#bd18d8" stroke-width="2.20"/>
<path d="M656.3 384.4L758.6 384.4" stroke="#d81880" stroke-width="2.20"/>
</g>
<path d="M656.50 226.20 V384.50 H758.59" fill="none" stroke="#222" stroke-width="0.9"/>
<path d="M653.93 384.40 H656.50" stroke="#222" stroke-width="0.8"/>
<text x="651.14" y="388.10" font-size="8.40" text-anchor="end" textLength="4.66" lengthAdjust="spacingAndGlyphs">0</text>
<path d="M653.93 353.36 H656.50" stroke="#222" stroke-width="0.8"/>
<text x="651.14" y="357.06" font-size="8.40" text-anchor="end" textLength="23.32" lengthAdjust="spacingAndGlyphs">50000</text>
<path d="M653.93 322.32 H656.50" stroke="#222" stroke-width="0.8"/>
<text x="651.14" y="326.02" font-size="8.40" text-anchor="end" textLength="27.98" lengthAdjust="spacingAndGlyphs">100000</text>
<path d="M653.93 291.28 H656.50" stroke="#222" stroke-width="0.8"/>
<text x="651.14" y="294.98" font-size="8.40" text-anchor="end" textLength="27.98" lengthAdjust="spacingAndGlyphs">150000</text>
<path d="M653.93 260.24 H656.50" stroke="#222" stroke-width="0.8"/>
<text x="651.14" y="263.94" font-size="8.40" text-anchor="end" textLength="27.98" lengthAdjust="spacingAndGlyphs">200000</text>
<path d="M653.93 229.20 H656.50" stroke="#222" stroke-width="0.8"/>
<text x="651.14" y="232.90" font-size="8.40" text-anchor="end" textLength="27.98" lengthAdjust="spacingAndGlyphs">250000</text>
<path d="M656.28 384.50 V387.07" stroke="#222" stroke-width="0.8"/>
<text x="656.68" y="395.70" font-size="8.40" text-anchor="middle" textLength="4.66" lengthAdjust="spacingAndGlyphs">0</text>
<path d="M681.51 384.50 V387.07" stroke="#222" stroke-width="0.8"/>
<text x="681.91" y="395.70" font-size="8.40" text-anchor="middle" textLength="9.33" lengthAdjust="spacingAndGlyphs">90</text>
<path d="M706.73 384.50 V387.07" stroke="#222" stroke-width="0.8"/>
<text x="707.13" y="395.70" font-size="8.40" text-anchor="middle" textLength="13.99" lengthAdjust="spacingAndGlyphs">180</text>
<path d="M731.96 384.50 V387.07" stroke="#222" stroke-width="0.8"/>
<text x="732.36" y="395.70" font-size="8.40" text-anchor="middle" textLength="13.99" lengthAdjust="spacingAndGlyphs">270</text>
<path d="M757.19 384.50 V387.07" stroke="#222" stroke-width="0.8"/>
<text x="757.59" y="395.70" font-size="8.40" text-anchor="middle" textLength="13.99" lengthAdjust="spacingAndGlyphs">360</text>
<text x="680.80" y="221.80" font-size="9.5" font-weight="bold" style="stroke-width:0.3px" textLength="12.91" lengthAdjust="spacingAndGlyphs">VE</text>
<text x="707.30" y="221.80" font-size="9.5" font-weight="bold" style="stroke-width:0.3px" textLength="27.37" lengthAdjust="spacingAndGlyphs">100%</text>
<text x="700.50" y="222.50" font-size="9.2" font-weight="bold" style="stroke-width:0.3px" text-anchor="middle">=</text>
<text x="636.20" y="222.60" font-size="14.6" font-weight="bold" style="stroke-width:0.45px" textLength="6.3" lengthAdjust="spacingAndGlyphs">J</text>
<text x="707.13" y="406.70" font-size="9.5" text-anchor="middle" textLength="21.66" lengthAdjust="spacingAndGlyphs">Days</text>
<rect x="91.40" y="17.00" width="52.50" height="110.60" rx="1.5" fill="#fff" fill-opacity="0.8" stroke="#e2e2e2" stroke-width="0.7"/>
<path d="M94.3 22.30 H107.7" stroke="#000" stroke-width="1.10" stroke-linecap="square"/>
<text x="113.6" y="25.20" font-size="7.0" textLength="27.64" lengthAdjust="spacingAndGlyphs">baseline</text>
<path d="M94.3 32.18 H107.7" stroke="#d82318" stroke-width="2.20" stroke-linecap="square"/>
<text x="113.6" y="35.08" font-size="7.0" textLength="14.67" lengthAdjust="spacingAndGlyphs">10%</text>
<path d="M94.3 42.06 H107.7" stroke="#d89718" stroke-width="2.20" stroke-linecap="square"/>
<text x="113.6" y="44.96" font-size="7.0" textLength="14.67" lengthAdjust="spacingAndGlyphs">20%</text>
<path d="M94.3 51.94 H107.7" stroke="#a6d818" stroke-width="2.20" stroke-linecap="square"/>
<text x="113.6" y="54.84" font-size="7.0" textLength="14.67" lengthAdjust="spacingAndGlyphs">30%</text>
<path d="M94.3 61.82 H107.7" stroke="#33d818" stroke-width="2.20" stroke-linecap="square"/>
<text x="113.6" y="64.72" font-size="7.0" textLength="14.67" lengthAdjust="spacingAndGlyphs">40%</text>
<path d="M94.3 71.70 H107.7" stroke="#18d870" stroke-width="2.20" stroke-linecap="square"/>
<text x="113.6" y="74.60" font-size="7.0" textLength="14.67" lengthAdjust="spacingAndGlyphs">50%</text>
<path d="M94.3 81.58 H107.7" stroke="#18ccd8" stroke-width="2.20" stroke-linecap="square"/>
<text x="113.6" y="84.48" font-size="7.0" textLength="14.67" lengthAdjust="spacingAndGlyphs">60%</text>
<path d="M94.3 91.46 H107.7" stroke="#1859d8" stroke-width="2.20" stroke-linecap="square"/>
<text x="113.6" y="94.36" font-size="7.0" textLength="14.67" lengthAdjust="spacingAndGlyphs">70%</text>
<path d="M94.3 101.34 H107.7" stroke="#4a18d8" stroke-width="2.20" stroke-linecap="square"/>
<text x="113.6" y="104.24" font-size="7.0" textLength="14.67" lengthAdjust="spacingAndGlyphs">80%</text>
<path d="M94.3 111.22 H107.7" stroke="#bd18d8" stroke-width="2.20" stroke-linecap="square"/>
<text x="113.6" y="114.12" font-size="7.0" textLength="14.67" lengthAdjust="spacingAndGlyphs">90%</text>
<path d="M94.3 121.10 H107.7" stroke="#d81880" stroke-width="2.20" stroke-linecap="square"/>
<text x="113.6" y="124.00" font-size="7.0" textLength="18.87" lengthAdjust="spacingAndGlyphs">100%</text>
</svg></body></html>
